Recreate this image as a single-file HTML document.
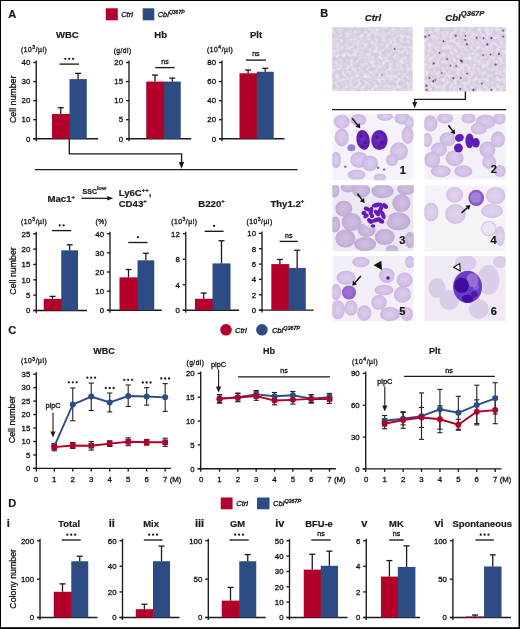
<!DOCTYPE html>
<html><head><meta charset="utf-8"><style>
html,body{margin:0;padding:0;background:#fff;width:520px;height:629px;overflow:hidden}
svg{display:block;will-change:transform}
text{font-family:"Liberation Sans", sans-serif;stroke:currentColor;stroke-width:0.18px;paint-order:stroke}
text[font-weight="normal"],text:not([font-weight]){stroke-width:0.3px}
</style></head><body>
<svg width="520" height="629" viewBox="0 0 520 629" font-family='"Liberation Sans", sans-serif'>
<rect width="520" height="629" fill="#fff"/>
<text x="8.3" y="17.7" font-size="11" font-weight="bold" font-style="normal" text-anchor="start" fill="#1a1a1a" >A</text>
<rect x="105.8" y="8.3" width="12" height="12" fill="#b2002a"/>
<text x="121.2" y="17" font-size="7.5" font-weight="normal" font-style="italic" text-anchor="start" fill="#1a1a1a" >Ctrl</text>
<rect x="142.7" y="8.3" width="11.6" height="12" fill="#2d4c83"/>
<text x="157.7" y="17" font-size="7.5" font-weight="normal" font-style="italic" text-anchor="start" fill="#1a1a1a" >Cbl<tspan font-size="5" dy="-3.5">Q367P</tspan></text>
<text x="67.3" y="38" font-size="9.5" font-weight="bold" font-style="normal" text-anchor="middle" fill="#1a1a1a" >WBC</text>
<text x="160.7" y="38" font-size="9.5" font-weight="bold" font-style="normal" text-anchor="middle" fill="#1a1a1a" >Hb</text>
<text x="256" y="38" font-size="9.5" font-weight="bold" font-style="normal" text-anchor="middle" fill="#1a1a1a" >Plt</text>
<text x="21" y="52" font-size="6.7" font-weight="normal" font-style="normal" text-anchor="start" fill="#1a1a1a" letter-spacing="0.55">(10<tspan font-size="5" dy="-2.6">3</tspan><tspan dy="2.6">/µl)</tspan></text>
<text x="113.7" y="52.5" font-size="6.7" font-weight="normal" font-style="normal" text-anchor="start" fill="#1a1a1a" letter-spacing="0.45">(g/dl)</text>
<text x="207" y="52" font-size="6.7" font-weight="normal" font-style="normal" text-anchor="start" fill="#1a1a1a" letter-spacing="0.55">(10<tspan font-size="5" dy="-2.6">4</tspan><tspan dy="2.6">/µl)</tspan></text>
<text x="0" y="0" font-size="8.8" text-anchor="middle" fill="#1a1a1a" transform="translate(15.7,99.3) rotate(-90)">Cell number</text>
<line x1="36.25" y1="60.5" x2="36.25" y2="141.25" stroke="#1a1a1a" stroke-width="1.35"/>
<line x1="33.25" y1="138.75" x2="36.25" y2="138.75" stroke="#1a1a1a" stroke-width="1.35"/>
<text x="30.25" y="141.55" font-size="7.8" font-weight="normal" font-style="normal" text-anchor="end" fill="#1a1a1a" >0</text>
<line x1="33.25" y1="119.69" x2="36.25" y2="119.69" stroke="#1a1a1a" stroke-width="1.35"/>
<text x="30.25" y="122.49" font-size="7.8" font-weight="normal" font-style="normal" text-anchor="end" fill="#1a1a1a" >10</text>
<line x1="33.25" y1="100.62" x2="36.25" y2="100.62" stroke="#1a1a1a" stroke-width="1.35"/>
<text x="30.25" y="103.42" font-size="7.8" font-weight="normal" font-style="normal" text-anchor="end" fill="#1a1a1a" >20</text>
<line x1="33.25" y1="81.56" x2="36.25" y2="81.56" stroke="#1a1a1a" stroke-width="1.35"/>
<text x="30.25" y="84.36" font-size="7.8" font-weight="normal" font-style="normal" text-anchor="end" fill="#1a1a1a" >30</text>
<line x1="33.25" y1="62.5" x2="36.25" y2="62.5" stroke="#1a1a1a" stroke-width="1.35"/>
<text x="30.25" y="65.3" font-size="7.8" font-weight="normal" font-style="normal" text-anchor="end" fill="#1a1a1a" >40</text>
<line x1="33.25" y1="138.75" x2="98" y2="138.75" stroke="#1a1a1a" stroke-width="1.35"/>
<rect x="52" y="113.97" width="18.2" height="24.78" fill="#b2002a"/>
<line x1="60.75" y1="113.97" x2="60.75" y2="107.68" stroke="#1a1a1a" stroke-width="1.3"/>
<line x1="57.75" y1="107.68" x2="63.75" y2="107.68" stroke="#1a1a1a" stroke-width="1.3"/>
<rect x="69.5" y="79.08" width="17.25" height="59.67" fill="#2d4c83"/>
<line x1="78.12" y1="79.08" x2="78.12" y2="73.37" stroke="#1a1a1a" stroke-width="1.3"/>
<line x1="75.12" y1="73.37" x2="81.12" y2="73.37" stroke="#1a1a1a" stroke-width="1.3"/>
<line x1="59.5" y1="64.1" x2="79" y2="64.1" stroke="#1a1a1a" stroke-width="1.35"/>
<circle cx="65.35" cy="58.8" r="1.15" fill="#1a1a1a"/>
<circle cx="69.25" cy="58.8" r="1.15" fill="#1a1a1a"/>
<circle cx="73.15" cy="58.8" r="1.15" fill="#1a1a1a"/>
<line x1="129" y1="60.5" x2="129" y2="141.25" stroke="#1a1a1a" stroke-width="1.35"/>
<line x1="126" y1="138.75" x2="129" y2="138.75" stroke="#1a1a1a" stroke-width="1.35"/>
<text x="123" y="141.55" font-size="7.8" font-weight="normal" font-style="normal" text-anchor="end" fill="#1a1a1a" >0</text>
<line x1="126" y1="119.69" x2="129" y2="119.69" stroke="#1a1a1a" stroke-width="1.35"/>
<text x="123" y="122.49" font-size="7.8" font-weight="normal" font-style="normal" text-anchor="end" fill="#1a1a1a" >5</text>
<line x1="126" y1="100.62" x2="129" y2="100.62" stroke="#1a1a1a" stroke-width="1.35"/>
<text x="123" y="103.42" font-size="7.8" font-weight="normal" font-style="normal" text-anchor="end" fill="#1a1a1a" >10</text>
<line x1="126" y1="81.56" x2="129" y2="81.56" stroke="#1a1a1a" stroke-width="1.35"/>
<text x="123" y="84.36" font-size="7.8" font-weight="normal" font-style="normal" text-anchor="end" fill="#1a1a1a" >15</text>
<line x1="126" y1="62.5" x2="129" y2="62.5" stroke="#1a1a1a" stroke-width="1.35"/>
<text x="123" y="65.3" font-size="7.8" font-weight="normal" font-style="normal" text-anchor="end" fill="#1a1a1a" >20</text>
<line x1="126" y1="138.75" x2="191.25" y2="138.75" stroke="#1a1a1a" stroke-width="1.35"/>
<rect x="146.25" y="81.56" width="18.2" height="57.19" fill="#b2002a"/>
<line x1="155" y1="81.56" x2="155" y2="75.08" stroke="#1a1a1a" stroke-width="1.3"/>
<line x1="152" y1="75.08" x2="158" y2="75.08" stroke="#1a1a1a" stroke-width="1.3"/>
<rect x="163.75" y="81.56" width="17" height="57.19" fill="#2d4c83"/>
<line x1="172.25" y1="81.56" x2="172.25" y2="78.13" stroke="#1a1a1a" stroke-width="1.3"/>
<line x1="169.25" y1="78.13" x2="175.25" y2="78.13" stroke="#1a1a1a" stroke-width="1.3"/>
<line x1="155.3" y1="67.6" x2="174.6" y2="67.6" stroke="#1a1a1a" stroke-width="1.35"/>
<text x="164.95" y="63.8" font-size="7" font-weight="normal" font-style="normal" text-anchor="middle" fill="#1a1a1a" >ns</text>
<line x1="222" y1="60.5" x2="222" y2="141.25" stroke="#1a1a1a" stroke-width="1.35"/>
<line x1="219" y1="138.75" x2="222" y2="138.75" stroke="#1a1a1a" stroke-width="1.35"/>
<text x="216" y="141.55" font-size="7.8" font-weight="normal" font-style="normal" text-anchor="end" fill="#1a1a1a" >0</text>
<line x1="219" y1="119.69" x2="222" y2="119.69" stroke="#1a1a1a" stroke-width="1.35"/>
<text x="216" y="122.49" font-size="7.8" font-weight="normal" font-style="normal" text-anchor="end" fill="#1a1a1a" >20</text>
<line x1="219" y1="100.62" x2="222" y2="100.62" stroke="#1a1a1a" stroke-width="1.35"/>
<text x="216" y="103.42" font-size="7.8" font-weight="normal" font-style="normal" text-anchor="end" fill="#1a1a1a" >40</text>
<line x1="219" y1="81.56" x2="222" y2="81.56" stroke="#1a1a1a" stroke-width="1.35"/>
<text x="216" y="84.36" font-size="7.8" font-weight="normal" font-style="normal" text-anchor="end" fill="#1a1a1a" >60</text>
<line x1="219" y1="62.5" x2="222" y2="62.5" stroke="#1a1a1a" stroke-width="1.35"/>
<text x="216" y="65.3" font-size="7.8" font-weight="normal" font-style="normal" text-anchor="end" fill="#1a1a1a" >80</text>
<line x1="219" y1="138.75" x2="284.5" y2="138.75" stroke="#1a1a1a" stroke-width="1.35"/>
<rect x="239.5" y="73.27" width="17.95" height="65.48" fill="#b2002a"/>
<line x1="248.12" y1="73.27" x2="248.12" y2="70.03" stroke="#1a1a1a" stroke-width="1.3"/>
<line x1="245.12" y1="70.03" x2="251.12" y2="70.03" stroke="#1a1a1a" stroke-width="1.3"/>
<rect x="256.75" y="71.75" width="17" height="67" fill="#2d4c83"/>
<line x1="265.25" y1="71.75" x2="265.25" y2="68.31" stroke="#1a1a1a" stroke-width="1.3"/>
<line x1="262.25" y1="68.31" x2="268.25" y2="68.31" stroke="#1a1a1a" stroke-width="1.3"/>
<line x1="245.8" y1="60.1" x2="266" y2="60.1" stroke="#1a1a1a" stroke-width="1.35"/>
<text x="255.9" y="56.3" font-size="7" font-weight="normal" font-style="normal" text-anchor="middle" fill="#1a1a1a" >ns</text>
<polyline points="69.3,139.3 69.3,153.9 181.6,153.9 181.6,163" fill="none" stroke="#1a1a1a" stroke-width="1.35"/>
<polygon points="178.8,162 184.2,162 181.5,168.8" fill="#1a1a1a"/>
<line x1="35" y1="169.6" x2="297.5" y2="169.6" stroke="#1a1a1a" stroke-width="1.35"/>
<text x="47.5" y="202.3" font-size="9.6" font-weight="bold" font-style="normal" text-anchor="start" fill="#1a1a1a" >Mac1<tspan font-size="6" dy="-3.8">+</tspan></text>
<text x="82.6" y="193.5" font-size="7" font-weight="bold" font-style="normal" text-anchor="start" fill="#1a1a1a" >SSC<tspan font-size="5.6" dy="-3.2">low</tspan></text>
<line x1="81.5" y1="198.3" x2="109" y2="198.3" stroke="#1a1a1a" stroke-width="1.3"/>
<polygon points="107.4,196.1 113.2,198.3 107.4,200.5" fill="#1a1a1a"/>
<text x="118.7" y="195.5" font-size="9.6" font-weight="bold" font-style="normal" text-anchor="start" fill="#1a1a1a" >Ly6C<tspan font-size="6" dy="-3.8">++</tspan><tspan dy="3.8">,</tspan></text>
<text x="118.7" y="206.7" font-size="9.6" font-weight="bold" font-style="normal" text-anchor="start" fill="#1a1a1a" >CD43<tspan font-size="6" dy="-3.8">+</tspan></text>
<text x="198.3" y="206.5" font-size="9.6" font-weight="bold" font-style="normal" text-anchor="start" fill="#1a1a1a" >B220<tspan font-size="6" dy="-3.8">+</tspan></text>
<text x="270.4" y="206.5" font-size="9.6" font-weight="bold" font-style="normal" text-anchor="start" fill="#1a1a1a" >Thy1.2<tspan font-size="6" dy="-3.8">+</tspan></text>
<text x="21" y="224" font-size="6.7" font-weight="normal" font-style="normal" text-anchor="start" fill="#1a1a1a" letter-spacing="0.55">(10<tspan font-size="5" dy="-2.6">3</tspan><tspan dy="2.6">/µl)</tspan></text>
<text x="95.5" y="224" font-size="6.7" font-weight="normal" font-style="normal" text-anchor="start" fill="#1a1a1a" letter-spacing="0.45">(%)</text>
<text x="171.2" y="224" font-size="6.7" font-weight="normal" font-style="normal" text-anchor="start" fill="#1a1a1a" letter-spacing="0.55">(10<tspan font-size="5" dy="-2.6">3</tspan><tspan dy="2.6">/µl)</tspan></text>
<text x="246.4" y="224" font-size="6.7" font-weight="normal" font-style="normal" text-anchor="start" fill="#1a1a1a" letter-spacing="0.55">(10<tspan font-size="5" dy="-2.6">3</tspan><tspan dy="2.6">/µl)</tspan></text>
<text x="0" y="0" font-size="8.8" text-anchor="middle" fill="#1a1a1a" transform="translate(15.7,271) rotate(-90)">Cell number</text>
<line x1="36.25" y1="231.75" x2="36.25" y2="313" stroke="#1a1a1a" stroke-width="1.35"/>
<line x1="33.25" y1="310.5" x2="36.25" y2="310.5" stroke="#1a1a1a" stroke-width="1.35"/>
<text x="30.25" y="313.3" font-size="7.8" font-weight="normal" font-style="normal" text-anchor="end" fill="#1a1a1a" >0</text>
<line x1="33.25" y1="295.15" x2="36.25" y2="295.15" stroke="#1a1a1a" stroke-width="1.35"/>
<text x="30.25" y="297.95" font-size="7.8" font-weight="normal" font-style="normal" text-anchor="end" fill="#1a1a1a" >5</text>
<line x1="33.25" y1="279.8" x2="36.25" y2="279.8" stroke="#1a1a1a" stroke-width="1.35"/>
<text x="30.25" y="282.6" font-size="7.8" font-weight="normal" font-style="normal" text-anchor="end" fill="#1a1a1a" >10</text>
<line x1="33.25" y1="264.45" x2="36.25" y2="264.45" stroke="#1a1a1a" stroke-width="1.35"/>
<text x="30.25" y="267.25" font-size="7.8" font-weight="normal" font-style="normal" text-anchor="end" fill="#1a1a1a" >15</text>
<line x1="33.25" y1="249.1" x2="36.25" y2="249.1" stroke="#1a1a1a" stroke-width="1.35"/>
<text x="30.25" y="251.9" font-size="7.8" font-weight="normal" font-style="normal" text-anchor="end" fill="#1a1a1a" >20</text>
<line x1="33.25" y1="233.75" x2="36.25" y2="233.75" stroke="#1a1a1a" stroke-width="1.35"/>
<text x="30.25" y="236.55" font-size="7.8" font-weight="normal" font-style="normal" text-anchor="end" fill="#1a1a1a" >25</text>
<line x1="33.25" y1="310.5" x2="87" y2="310.5" stroke="#1a1a1a" stroke-width="1.35"/>
<rect x="43.75" y="298.83" width="18.2" height="11.67" fill="#b2002a"/>
<line x1="52.5" y1="298.83" x2="52.5" y2="296.38" stroke="#1a1a1a" stroke-width="1.3"/>
<line x1="49.5" y1="296.38" x2="55.5" y2="296.38" stroke="#1a1a1a" stroke-width="1.3"/>
<rect x="61.25" y="250.33" width="16.75" height="60.17" fill="#2d4c83"/>
<line x1="69.62" y1="250.33" x2="69.62" y2="244.8" stroke="#1a1a1a" stroke-width="1.3"/>
<line x1="66.62" y1="244.8" x2="72.62" y2="244.8" stroke="#1a1a1a" stroke-width="1.3"/>
<line x1="52" y1="230.6" x2="71.25" y2="230.6" stroke="#1a1a1a" stroke-width="1.35"/>
<circle cx="59.67" cy="225.3" r="1.15" fill="#1a1a1a"/>
<circle cx="63.58" cy="225.3" r="1.15" fill="#1a1a1a"/>
<line x1="110" y1="231.75" x2="110" y2="312.75" stroke="#1a1a1a" stroke-width="1.35"/>
<line x1="107" y1="310.25" x2="110" y2="310.25" stroke="#1a1a1a" stroke-width="1.35"/>
<text x="104" y="313.05" font-size="7.8" font-weight="normal" font-style="normal" text-anchor="end" fill="#1a1a1a" >0</text>
<line x1="107" y1="291.12" x2="110" y2="291.12" stroke="#1a1a1a" stroke-width="1.35"/>
<text x="104" y="293.93" font-size="7.8" font-weight="normal" font-style="normal" text-anchor="end" fill="#1a1a1a" >10</text>
<line x1="107" y1="272" x2="110" y2="272" stroke="#1a1a1a" stroke-width="1.35"/>
<text x="104" y="274.8" font-size="7.8" font-weight="normal" font-style="normal" text-anchor="end" fill="#1a1a1a" >20</text>
<line x1="107" y1="252.88" x2="110" y2="252.88" stroke="#1a1a1a" stroke-width="1.35"/>
<text x="104" y="255.68" font-size="7.8" font-weight="normal" font-style="normal" text-anchor="end" fill="#1a1a1a" >30</text>
<line x1="107" y1="233.75" x2="110" y2="233.75" stroke="#1a1a1a" stroke-width="1.35"/>
<text x="104" y="236.55" font-size="7.8" font-weight="normal" font-style="normal" text-anchor="end" fill="#1a1a1a" >40</text>
<line x1="107" y1="310.25" x2="161.75" y2="310.25" stroke="#1a1a1a" stroke-width="1.35"/>
<rect x="119.5" y="277.36" width="18.7" height="32.89" fill="#b2002a"/>
<line x1="128.5" y1="277.36" x2="128.5" y2="269.51" stroke="#1a1a1a" stroke-width="1.3"/>
<line x1="125.5" y1="269.51" x2="131.5" y2="269.51" stroke="#1a1a1a" stroke-width="1.3"/>
<rect x="137.5" y="260.33" width="16.75" height="49.92" fill="#2d4c83"/>
<line x1="145.88" y1="260.33" x2="145.88" y2="253.26" stroke="#1a1a1a" stroke-width="1.3"/>
<line x1="142.88" y1="253.26" x2="148.88" y2="253.26" stroke="#1a1a1a" stroke-width="1.3"/>
<line x1="128.25" y1="242.5" x2="147.5" y2="242.5" stroke="#1a1a1a" stroke-width="1.35"/>
<circle cx="137.88" cy="237.2" r="1.15" fill="#1a1a1a"/>
<line x1="185.75" y1="231.75" x2="185.75" y2="312.75" stroke="#1a1a1a" stroke-width="1.35"/>
<line x1="182.75" y1="310.25" x2="185.75" y2="310.25" stroke="#1a1a1a" stroke-width="1.35"/>
<text x="179.75" y="313.05" font-size="7.8" font-weight="normal" font-style="normal" text-anchor="end" fill="#1a1a1a" >0</text>
<line x1="182.75" y1="284.75" x2="185.75" y2="284.75" stroke="#1a1a1a" stroke-width="1.35"/>
<text x="179.75" y="287.55" font-size="7.8" font-weight="normal" font-style="normal" text-anchor="end" fill="#1a1a1a" >4</text>
<line x1="182.75" y1="259.25" x2="185.75" y2="259.25" stroke="#1a1a1a" stroke-width="1.35"/>
<text x="179.75" y="262.05" font-size="7.8" font-weight="normal" font-style="normal" text-anchor="end" fill="#1a1a1a" >8</text>
<line x1="182.75" y1="233.75" x2="185.75" y2="233.75" stroke="#1a1a1a" stroke-width="1.35"/>
<text x="179.75" y="236.55" font-size="7.8" font-weight="normal" font-style="normal" text-anchor="end" fill="#1a1a1a" >12</text>
<line x1="182.75" y1="310.25" x2="239" y2="310.25" stroke="#1a1a1a" stroke-width="1.35"/>
<rect x="195" y="298.77" width="18.2" height="11.48" fill="#b2002a"/>
<line x1="203.75" y1="298.77" x2="203.75" y2="293.04" stroke="#1a1a1a" stroke-width="1.3"/>
<line x1="200.75" y1="293.04" x2="206.75" y2="293.04" stroke="#1a1a1a" stroke-width="1.3"/>
<rect x="212.5" y="263.39" width="18" height="46.86" fill="#2d4c83"/>
<line x1="221.5" y1="263.39" x2="221.5" y2="240.76" stroke="#1a1a1a" stroke-width="1.3"/>
<line x1="218.5" y1="240.76" x2="224.5" y2="240.76" stroke="#1a1a1a" stroke-width="1.3"/>
<line x1="204.6" y1="231.3" x2="223.6" y2="231.3" stroke="#1a1a1a" stroke-width="1.35"/>
<circle cx="214.1" cy="226" r="1.15" fill="#1a1a1a"/>
<line x1="262" y1="231.4" x2="262" y2="312.6" stroke="#1a1a1a" stroke-width="1.35"/>
<line x1="259" y1="310.1" x2="262" y2="310.1" stroke="#1a1a1a" stroke-width="1.35"/>
<text x="256" y="312.9" font-size="7.8" font-weight="normal" font-style="normal" text-anchor="end" fill="#1a1a1a" >0</text>
<line x1="259" y1="294.76" x2="262" y2="294.76" stroke="#1a1a1a" stroke-width="1.35"/>
<text x="256" y="297.56" font-size="7.8" font-weight="normal" font-style="normal" text-anchor="end" fill="#1a1a1a" >2</text>
<line x1="259" y1="279.42" x2="262" y2="279.42" stroke="#1a1a1a" stroke-width="1.35"/>
<text x="256" y="282.22" font-size="7.8" font-weight="normal" font-style="normal" text-anchor="end" fill="#1a1a1a" >4</text>
<line x1="259" y1="264.08" x2="262" y2="264.08" stroke="#1a1a1a" stroke-width="1.35"/>
<text x="256" y="266.88" font-size="7.8" font-weight="normal" font-style="normal" text-anchor="end" fill="#1a1a1a" >6</text>
<line x1="259" y1="248.74" x2="262" y2="248.74" stroke="#1a1a1a" stroke-width="1.35"/>
<text x="256" y="251.54" font-size="7.8" font-weight="normal" font-style="normal" text-anchor="end" fill="#1a1a1a" >8</text>
<line x1="259" y1="233.4" x2="262" y2="233.4" stroke="#1a1a1a" stroke-width="1.35"/>
<text x="256" y="236.2" font-size="7.8" font-weight="normal" font-style="normal" text-anchor="end" fill="#1a1a1a" >10</text>
<line x1="259" y1="310.1" x2="313.7" y2="310.1" stroke="#1a1a1a" stroke-width="1.35"/>
<rect x="271.3" y="264.08" width="17.9" height="46.02" fill="#b2002a"/>
<line x1="279.9" y1="264.08" x2="279.9" y2="259.48" stroke="#1a1a1a" stroke-width="1.3"/>
<line x1="276.9" y1="259.48" x2="282.9" y2="259.48" stroke="#1a1a1a" stroke-width="1.3"/>
<rect x="288.5" y="267.92" width="17.3" height="42.19" fill="#2d4c83"/>
<line x1="297.15" y1="267.92" x2="297.15" y2="250.27" stroke="#1a1a1a" stroke-width="1.3"/>
<line x1="294.15" y1="250.27" x2="300.15" y2="250.27" stroke="#1a1a1a" stroke-width="1.3"/>
<line x1="279.6" y1="241.4" x2="297.8" y2="241.4" stroke="#1a1a1a" stroke-width="1.35"/>
<text x="288.7" y="237.6" font-size="7" font-weight="normal" font-style="normal" text-anchor="middle" fill="#1a1a1a" >ns</text>
<text x="320.3" y="17.3" font-size="11" font-weight="bold" font-style="normal" text-anchor="start" fill="#1a1a1a" >B</text>
<text x="373" y="21.2" font-size="9.6" font-weight="bold" font-style="italic" text-anchor="middle" fill="#1a1a1a" >Ctrl</text>
<text x="445.3" y="21.2" font-size="9.6" font-weight="bold" font-style="italic" text-anchor="start" fill="#1a1a1a" >Cbl<tspan font-size="7.6" dy="-4.8">Q367P</tspan></text>
<defs>
<filter id="tex" x="0" y="0" width="100%" height="100%"><feTurbulence type="fractalNoise" baseFrequency="0.28" numOctaves="2" seed="7"/><feColorMatrix type="matrix" values="0 0 0 0 0.91  0 0 0 0 0.89  0 0 0 0 0.93  1.7 0 0 0 -0.62"/><feComposite in2="SourceGraphic" operator="in"/></filter>
<clipPath id="c1"><rect x="332.3" y="114" width="81.4" height="66.3"/></clipPath>
<clipPath id="c2"><rect x="424.3" y="114" width="81.4" height="65.8"/></clipPath>
<clipPath id="c3"><rect x="332.3" y="185.2" width="81.4" height="65.8"/></clipPath>
<clipPath id="c4"><rect x="424.3" y="185.2" width="81.4" height="65.8"/></clipPath>
<clipPath id="c5"><rect x="332.3" y="256" width="81.4" height="65.3"/></clipPath>
<clipPath id="c6"><rect x="424.3" y="256" width="81.4" height="65.3"/></clipPath>
<filter id="soft" x="-5%" y="-5%" width="110%" height="110%"><feGaussianBlur stdDeviation="0.6"/></filter>
<radialGradient id="rbc" cx="50%" cy="50%" r="50%"><stop offset="0" stop-color="#dccdeb"/><stop offset="0.75" stop-color="#d2bfe6"/><stop offset="1" stop-color="#c9b3e0"/></radialGradient>
<radialGradient id="rbc3" cx="50%" cy="50%" r="50%"><stop offset="0" stop-color="#d0c0e0"/><stop offset="0.75" stop-color="#c6b2da"/><stop offset="1" stop-color="#bca8d2"/></radialGradient>
<radialGradient id="nuc" cx="45%" cy="45%" r="60%"><stop offset="0" stop-color="#7030c4"/><stop offset="1" stop-color="#5018a8"/></radialGradient>
</defs>
<rect x="332.2" y="27.1" width="80.4" height="63.9" fill="#d5cadf"/>
<rect x="332.2" y="27.1" width="80.4" height="63.9" fill="#fff" filter="url(#tex)"/>
<rect x="424.4" y="27.1" width="81.4" height="64.3" fill="#d5cadf"/>
<rect x="424.4" y="27.1" width="81.4" height="64.3" fill="#fff" filter="url(#tex)"/>
<ellipse cx="394.6" cy="49.1" rx="1" ry="1" fill="#8a5a98" opacity="1" />
<ellipse cx="381.9" cy="75.1" rx="0.8" ry="0.8" fill="#9a7aa8" opacity="1" />
<ellipse cx="425.3" cy="36.7" rx="1.9" ry="1.9" fill="#e2b0e2" opacity="0.4" />
<ellipse cx="429.1" cy="35.4" rx="1.9" ry="1.9" fill="#e2b0e2" opacity="0.4" />
<ellipse cx="443.5" cy="41.2" rx="1.9" ry="1.9" fill="#e2b0e2" opacity="0.4" />
<ellipse cx="455.7" cy="35.8" rx="1.9" ry="1.9" fill="#e2b0e2" opacity="0.4" />
<ellipse cx="465.4" cy="35.8" rx="1.9" ry="1.9" fill="#e2b0e2" opacity="0.4" />
<ellipse cx="465.2" cy="39.8" rx="1.9" ry="1.9" fill="#e2b0e2" opacity="0.4" />
<ellipse cx="466.9" cy="44.3" rx="1.9" ry="1.9" fill="#e2b0e2" opacity="0.4" />
<ellipse cx="476.6" cy="37.7" rx="1.9" ry="1.9" fill="#e2b0e2" opacity="0.4" />
<ellipse cx="483.6" cy="38.1" rx="1.9" ry="1.9" fill="#e2b0e2" opacity="0.4" />
<ellipse cx="491.4" cy="38.1" rx="1.9" ry="1.9" fill="#e2b0e2" opacity="0.4" />
<ellipse cx="503.1" cy="30.7" rx="1.9" ry="1.9" fill="#e2b0e2" opacity="0.4" />
<ellipse cx="503.1" cy="36.4" rx="1.9" ry="1.9" fill="#e2b0e2" opacity="0.4" />
<ellipse cx="487.2" cy="44.4" rx="1.9" ry="1.9" fill="#e2b0e2" opacity="0.4" />
<ellipse cx="483" cy="55" rx="1.9" ry="1.9" fill="#e2b0e2" opacity="0.4" />
<ellipse cx="490.4" cy="54.6" rx="1.9" ry="1.9" fill="#e2b0e2" opacity="0.4" />
<ellipse cx="498.9" cy="53.9" rx="1.9" ry="1.9" fill="#e2b0e2" opacity="0.4" />
<ellipse cx="460.8" cy="60.3" rx="1.9" ry="1.9" fill="#e2b0e2" opacity="0.4" />
<ellipse cx="447" cy="58.9" rx="1.9" ry="1.9" fill="#e2b0e2" opacity="0.4" />
<ellipse cx="433.7" cy="63.5" rx="1.9" ry="1.9" fill="#e2b0e2" opacity="0.4" />
<ellipse cx="450.6" cy="65.6" rx="1.9" ry="1.9" fill="#e2b0e2" opacity="0.4" />
<ellipse cx="456.1" cy="66" rx="1.9" ry="1.9" fill="#e2b0e2" opacity="0.4" />
<ellipse cx="461.8" cy="61.4" rx="1.9" ry="1.9" fill="#e2b0e2" opacity="0.4" />
<ellipse cx="441.7" cy="73" rx="1.9" ry="1.9" fill="#e2b0e2" opacity="0.4" />
<ellipse cx="467.1" cy="73.6" rx="1.9" ry="1.9" fill="#e2b0e2" opacity="0.4" />
<ellipse cx="495.7" cy="64.5" rx="1.9" ry="1.9" fill="#e2b0e2" opacity="0.4" />
<ellipse cx="429.5" cy="77.9" rx="1.9" ry="1.9" fill="#e2b0e2" opacity="0.4" />
<ellipse cx="435.4" cy="80" rx="1.9" ry="1.9" fill="#e2b0e2" opacity="0.4" />
<ellipse cx="453.4" cy="78.3" rx="1.9" ry="1.9" fill="#e2b0e2" opacity="0.4" />
<ellipse cx="460.8" cy="77.9" rx="1.9" ry="1.9" fill="#e2b0e2" opacity="0.4" />
<ellipse cx="481.9" cy="83.6" rx="1.9" ry="1.9" fill="#e2b0e2" opacity="0.4" />
<ellipse cx="426.5" cy="85.7" rx="1.9" ry="1.9" fill="#e2b0e2" opacity="0.4" />
<ellipse cx="426.9" cy="89.9" rx="1.9" ry="1.9" fill="#e2b0e2" opacity="0.4" />
<ellipse cx="460.3" cy="88.9" rx="1.9" ry="1.9" fill="#e2b0e2" opacity="0.4" />
<ellipse cx="473.5" cy="89.9" rx="1.9" ry="1.9" fill="#e2b0e2" opacity="0.4" />
<ellipse cx="491.4" cy="89.9" rx="1.9" ry="1.9" fill="#e2b0e2" opacity="0.4" />
<ellipse cx="439.6" cy="52.9" rx="1.9" ry="1.9" fill="#e2b0e2" opacity="0.4" />
<ellipse cx="433.3" cy="81.4" rx="1.9" ry="1.9" fill="#e2b0e2" opacity="0.4" />
<ellipse cx="425.3" cy="36.7" rx="1.05" ry="1.05" fill="#7e3c8a" opacity="1" />
<ellipse cx="429.1" cy="35.4" rx="0.85" ry="0.85" fill="#7e3c8a" opacity="1" />
<ellipse cx="443.5" cy="41.2" rx="0.85" ry="0.85" fill="#7e3c8a" opacity="1" />
<ellipse cx="455.7" cy="35.8" rx="1.05" ry="1.05" fill="#7e3c8a" opacity="1" />
<ellipse cx="465.4" cy="35.8" rx="0.85" ry="0.85" fill="#7e3c8a" opacity="1" />
<ellipse cx="465.2" cy="39.8" rx="0.85" ry="0.85" fill="#7e3c8a" opacity="1" />
<ellipse cx="466.9" cy="44.3" rx="1.05" ry="1.05" fill="#7e3c8a" opacity="1" />
<ellipse cx="476.6" cy="37.7" rx="0.85" ry="0.85" fill="#7e3c8a" opacity="1" />
<ellipse cx="483.6" cy="38.1" rx="0.85" ry="0.85" fill="#7e3c8a" opacity="1" />
<ellipse cx="491.4" cy="38.1" rx="1.05" ry="1.05" fill="#7e3c8a" opacity="1" />
<ellipse cx="503.1" cy="30.7" rx="0.85" ry="0.85" fill="#7e3c8a" opacity="1" />
<ellipse cx="503.1" cy="36.4" rx="0.85" ry="0.85" fill="#7e3c8a" opacity="1" />
<ellipse cx="487.2" cy="44.4" rx="1.05" ry="1.05" fill="#7e3c8a" opacity="1" />
<ellipse cx="483" cy="55" rx="0.85" ry="0.85" fill="#7e3c8a" opacity="1" />
<ellipse cx="490.4" cy="54.6" rx="0.85" ry="0.85" fill="#7e3c8a" opacity="1" />
<ellipse cx="498.9" cy="53.9" rx="1.05" ry="1.05" fill="#7e3c8a" opacity="1" />
<ellipse cx="460.8" cy="60.3" rx="0.85" ry="0.85" fill="#7e3c8a" opacity="1" />
<ellipse cx="447" cy="58.9" rx="0.85" ry="0.85" fill="#7e3c8a" opacity="1" />
<ellipse cx="433.7" cy="63.5" rx="1.05" ry="1.05" fill="#7e3c8a" opacity="1" />
<ellipse cx="450.6" cy="65.6" rx="0.85" ry="0.85" fill="#7e3c8a" opacity="1" />
<ellipse cx="456.1" cy="66" rx="0.85" ry="0.85" fill="#7e3c8a" opacity="1" />
<ellipse cx="461.8" cy="61.4" rx="1.05" ry="1.05" fill="#7e3c8a" opacity="1" />
<ellipse cx="441.7" cy="73" rx="0.85" ry="0.85" fill="#7e3c8a" opacity="1" />
<ellipse cx="467.1" cy="73.6" rx="0.85" ry="0.85" fill="#7e3c8a" opacity="1" />
<ellipse cx="495.7" cy="64.5" rx="1.05" ry="1.05" fill="#7e3c8a" opacity="1" />
<ellipse cx="429.5" cy="77.9" rx="0.85" ry="0.85" fill="#7e3c8a" opacity="1" />
<ellipse cx="435.4" cy="80" rx="0.85" ry="0.85" fill="#7e3c8a" opacity="1" />
<ellipse cx="453.4" cy="78.3" rx="1.05" ry="1.05" fill="#7e3c8a" opacity="1" />
<ellipse cx="460.8" cy="77.9" rx="0.85" ry="0.85" fill="#7e3c8a" opacity="1" />
<ellipse cx="481.9" cy="83.6" rx="0.85" ry="0.85" fill="#7e3c8a" opacity="1" />
<ellipse cx="426.5" cy="85.7" rx="1.05" ry="1.05" fill="#7e3c8a" opacity="1" />
<ellipse cx="426.9" cy="89.9" rx="0.85" ry="0.85" fill="#7e3c8a" opacity="1" />
<ellipse cx="460.3" cy="88.9" rx="0.85" ry="0.85" fill="#7e3c8a" opacity="1" />
<ellipse cx="473.5" cy="89.9" rx="1.05" ry="1.05" fill="#7e3c8a" opacity="1" />
<ellipse cx="491.4" cy="89.9" rx="0.85" ry="0.85" fill="#7e3c8a" opacity="1" />
<ellipse cx="439.6" cy="52.9" rx="0.85" ry="0.85" fill="#7e3c8a" opacity="1" />
<ellipse cx="433.3" cy="81.4" rx="1.05" ry="1.05" fill="#7e3c8a" opacity="1" />
<g clip-path="url(#c1)">
<rect x="332.3" y="114" width="81.4" height="66.3" fill="#f6f2f9"/>
<g filter="url(#soft)">
<ellipse cx="341.8" cy="121.8" rx="8" ry="7" fill="url(#rbc)" opacity="1" />
<ellipse cx="358.3" cy="120.1" rx="8" ry="6" fill="url(#rbc)" opacity="1" />
<ellipse cx="385.1" cy="116.7" rx="8" ry="4" fill="url(#rbc)" opacity="1" />
<ellipse cx="402.4" cy="118.4" rx="8" ry="6" fill="url(#rbc)" opacity="1" />
<ellipse cx="341.8" cy="137.4" rx="7" ry="9" fill="url(#rbc)" opacity="1" />
<ellipse cx="359.2" cy="159.9" rx="9" ry="8" fill="url(#rbc)" opacity="1" />
<ellipse cx="370" cy="163.4" rx="8" ry="8" fill="url(#rbc)" opacity="1" />
<ellipse cx="399" cy="151.3" rx="9" ry="9" fill="url(#rbc)" opacity="1" />
<ellipse cx="407.6" cy="135" rx="6" ry="9" fill="url(#rbc)" opacity="1" />
<ellipse cx="356.6" cy="174.8" rx="9" ry="5" fill="url(#rbc)" opacity="1" />
<ellipse cx="379.9" cy="177.4" rx="6" ry="4" fill="url(#rbc)" opacity="1" />
<ellipse cx="409.3" cy="122.6" rx="5" ry="6" fill="url(#rbc)" opacity="1" />
<ellipse cx="392" cy="160" rx="6" ry="6" fill="url(#rbc)" opacity="1" />
<ellipse cx="336" cy="160" rx="5" ry="8" fill="url(#rbc)" opacity="1" />
</g>
<ellipse cx="351.4" cy="147.8" rx="4" ry="3.5" fill="#9a80cc" opacity="1" />
<ellipse cx="345.3" cy="166.8" rx="1.3" ry="1.2" fill="#8a70bc" opacity="1" />
<ellipse cx="378.2" cy="167.7" rx="1.3" ry="1.2" fill="#8a70bc" opacity="1" />
<ellipse cx="384.2" cy="169.4" rx="1.3" ry="1.2" fill="#8a70bc" opacity="1" />
<ellipse cx="363.1" cy="139.8" rx="7.6" ry="11" fill="#f6e6f6" opacity="1" />
<ellipse cx="379.4" cy="140.1" rx="9.2" ry="11" fill="#f6e6f6" opacity="1" />
<ellipse cx="363.1" cy="139.8" rx="6.6" ry="10" fill="url(#nuc)" opacity="1" transform="rotate(-10 363.1 139.8)"/>
<ellipse cx="379.4" cy="140.1" rx="8.2" ry="10" fill="url(#nuc)" opacity="1" />
<ellipse cx="361" cy="136" rx="2" ry="2" fill="#521496" opacity="0.8" />
<ellipse cx="365" cy="143" rx="1.8" ry="1.8" fill="#521496" opacity="0.8" />
<ellipse cx="377" cy="137" rx="2" ry="2" fill="#521496" opacity="0.8" />
<ellipse cx="382" cy="143" rx="2.2" ry="2.2" fill="#521496" opacity="0.8" />
<ellipse cx="379" cy="146" rx="1.5" ry="1.5" fill="#521496" opacity="0.8" />
<ellipse cx="362" cy="146" rx="1.6" ry="1.6" fill="#521496" opacity="0.8" />
</g>
<line x1="352.2" y1="118.4" x2="357.56" y2="124.96" stroke="#111" stroke-width="1.5"/><polygon points="360.3,128.3 355.47,126.67 359.65,123.25" fill="#111"/>
<text x="399.8" y="173.6" font-size="11" font-weight="bold" fill="#111">1</text>
<g clip-path="url(#c2)">
<rect x="424.3" y="114" width="81.4" height="65.8" fill="#f4f0f8"/>
<g filter="url(#soft)">
<ellipse cx="430.4" cy="123.6" rx="7" ry="8" fill="url(#rbc)" opacity="1" />
<ellipse cx="445.1" cy="118.4" rx="8" ry="5" fill="url(#rbc)" opacity="1" />
<ellipse cx="468.5" cy="118.4" rx="7" ry="5" fill="url(#rbc)" opacity="1" />
<ellipse cx="485.8" cy="121.8" rx="10" ry="7" fill="url(#rbc)" opacity="1" />
<ellipse cx="499.6" cy="118.4" rx="6" ry="6" fill="url(#rbc)" opacity="1" />
<ellipse cx="447.7" cy="139.2" rx="8" ry="7" fill="url(#rbc)" opacity="1" />
<ellipse cx="439" cy="149.5" rx="8" ry="7" fill="url(#rbc)" opacity="1" />
<ellipse cx="432.1" cy="159.9" rx="8" ry="8" fill="url(#rbc)" opacity="1" />
<ellipse cx="454.6" cy="158.2" rx="9" ry="8" fill="url(#rbc)" opacity="1" />
<ellipse cx="440.8" cy="171.3" rx="10" ry="6" fill="url(#rbc)" opacity="1" />
<ellipse cx="463.3" cy="171.3" rx="9" ry="6" fill="url(#rbc)" opacity="1" />
<ellipse cx="487.5" cy="149.5" rx="8" ry="8" fill="url(#rbc)" opacity="1" />
<ellipse cx="497.9" cy="139.6" rx="7" ry="8" fill="url(#rbc)" opacity="1" />
<ellipse cx="489.2" cy="161.9" rx="7" ry="7" fill="url(#rbc)" opacity="1" />
<ellipse cx="478.8" cy="128.5" rx="8" ry="6" fill="url(#rbc)" opacity="1" />
<ellipse cx="427" cy="140" rx="5" ry="7" fill="url(#rbc)" opacity="1" />
<ellipse cx="500" cy="171" rx="6" ry="6" fill="url(#rbc)" opacity="1" />
</g>
<ellipse cx="459.4" cy="137.8" rx="5.2" ry="4.5" fill="#f4e2f4" opacity="1" transform="rotate(-20 459.4 137.8)"/>
<ellipse cx="458.4" cy="148" rx="5.1" ry="5.3" fill="#f4e2f4" opacity="1" transform="rotate(0 458.4 148)"/>
<ellipse cx="469.6" cy="140.8" rx="4.9" ry="8.1" fill="#f4e2f4" opacity="1" transform="rotate(0 469.6 140.8)"/>
<ellipse cx="475.9" cy="142.8" rx="4.5" ry="5.5" fill="#f4e2f4" opacity="1" transform="rotate(0 475.9 142.8)"/>
<ellipse cx="459.4" cy="137.8" rx="4.5" ry="3.8" fill="#5c20b6" opacity="1" transform="rotate(-20 459.4 137.8)"/>
<ellipse cx="458.4" cy="148" rx="4.4" ry="4.6" fill="#5c20b6" opacity="1" transform="rotate(0 458.4 148)"/>
<ellipse cx="469.6" cy="140.8" rx="4.2" ry="7.4" fill="#5c20b6" opacity="1" transform="rotate(0 469.6 140.8)"/>
<ellipse cx="475.9" cy="142.8" rx="3.8" ry="4.8" fill="#5c20b6" opacity="1" transform="rotate(0 475.9 142.8)"/>
</g>
<line x1="448.4" y1="125.3" x2="452.58" y2="130.77" stroke="#111" stroke-width="1.5"/><polygon points="455.2,134.2 450.43,132.41 454.72,129.13" fill="#111"/>
<text x="490.8" y="173.4" font-size="11" font-weight="bold" fill="#111">2</text>
<g clip-path="url(#c3)">
<rect x="332.3" y="185.2" width="81.4" height="65.8" fill="#eee8f4"/>
<g filter="url(#soft)">
<ellipse cx="334.4" cy="190.5" rx="5" ry="7" fill="url(#rbc3)" opacity="1" />
<ellipse cx="347.8" cy="187.4" rx="7" ry="5" fill="url(#rbc3)" opacity="1" />
<ellipse cx="361.2" cy="190.5" rx="9" ry="7" fill="url(#rbc3)" opacity="1" />
<ellipse cx="382.5" cy="191.3" rx="11" ry="7" fill="url(#rbc3)" opacity="1" />
<ellipse cx="406.1" cy="188.9" rx="9" ry="6" fill="url(#rbc3)" opacity="1" />
<ellipse cx="343.8" cy="208.7" rx="8.5" ry="8" fill="url(#rbc3)" opacity="1" />
<ellipse cx="335.2" cy="224.4" rx="5" ry="8" fill="url(#rbc3)" opacity="1" />
<ellipse cx="351.7" cy="222" rx="10" ry="9" fill="url(#rbc3)" opacity="1" />
<ellipse cx="401.4" cy="203.1" rx="9" ry="9" fill="url(#rbc3)" opacity="1" />
<ellipse cx="398.2" cy="221.3" rx="12" ry="9" fill="url(#rbc3)" opacity="1" />
<ellipse cx="345.4" cy="238.6" rx="10" ry="9" fill="url(#rbc3)" opacity="1" />
<ellipse cx="365.1" cy="244.1" rx="11" ry="7" fill="url(#rbc3)" opacity="1" />
<ellipse cx="384.8" cy="237" rx="10" ry="8" fill="url(#rbc3)" opacity="1" />
<ellipse cx="366.7" cy="230" rx="9" ry="7" fill="url(#rbc3)" opacity="1" />
<ellipse cx="410" cy="240" rx="5" ry="8" fill="url(#rbc3)" opacity="1" />
<ellipse cx="392" cy="249" rx="6" ry="4" fill="url(#rbc3)" opacity="1" />
</g>
<ellipse cx="374.5" cy="214.6" rx="14.5" ry="13.5" fill="#efe4f4" opacity="1" />
<ellipse cx="367" cy="209" rx="3.4" ry="2.2" fill="#641cb4" opacity="1" transform="rotate(20 367 209)"/>
<ellipse cx="366" cy="216" rx="3" ry="2" fill="#641cb4" opacity="1" transform="rotate(-30 366 216)"/>
<ellipse cx="371" cy="211" rx="2.2" ry="4.4" fill="#641cb4" opacity="1" transform="rotate(10 371 211)"/>
<ellipse cx="377" cy="205" rx="5.5" ry="2.2" fill="#641cb4" opacity="1" transform="rotate(-10 377 205)"/>
<ellipse cx="380.5" cy="209.5" rx="2.2" ry="4.4" fill="#641cb4" opacity="1" transform="rotate(20 380.5 209.5)"/>
<ellipse cx="383" cy="215" rx="4.4" ry="2.2" fill="#641cb4" opacity="1" transform="rotate(70 383 215)"/>
<ellipse cx="376" cy="220" rx="5.5" ry="2.2" fill="#641cb4" opacity="1" transform="rotate(-20 376 220)"/>
<ellipse cx="370" cy="221" rx="3.4" ry="2.2" fill="#641cb4" opacity="1" transform="rotate(40 370 221)"/>
<ellipse cx="377" cy="213" rx="2.2" ry="4" fill="#641cb4" opacity="1" transform="rotate(-40 377 213)"/>
<ellipse cx="364" cy="213" rx="2.6" ry="2.2" fill="#641cb4" opacity="1" transform="rotate(0 364 213)"/>
<ellipse cx="381" cy="221" rx="3.4" ry="2.2" fill="#641cb4" opacity="1" transform="rotate(30 381 221)"/>
<ellipse cx="373" cy="226" rx="2.4" ry="1.8" fill="#641cb4" opacity="1" transform="rotate(0 373 226)"/>
<ellipse cx="385" cy="206" rx="3.4" ry="2.2" fill="#641cb4" opacity="1" transform="rotate(40 385 206)"/>
<ellipse cx="372" cy="216" rx="2.2" ry="2.2" fill="#641cb4" opacity="1" transform="rotate(0 372 216)"/>
</g>
<line x1="357.4" y1="193.8" x2="361.94" y2="199.6" stroke="#111" stroke-width="1.5"/><polygon points="364.6,203 359.81,201.26 364.06,197.93" fill="#111"/>
<text x="399.2" y="244.4" font-size="11" font-weight="bold" fill="#111">3</text>
<g clip-path="url(#c4)">
<rect x="424.3" y="185.2" width="81.4" height="65.8" fill="#f6f3f8"/>
<g filter="url(#soft)">
<ellipse cx="431" cy="212" rx="7.5" ry="9.5" fill="url(#rbc)" opacity="0.8" />
<ellipse cx="454.6" cy="194.7" rx="8.6" ry="7.8" fill="url(#rbc)" opacity="0.8" />
<ellipse cx="455.5" cy="214" rx="10.4" ry="10" fill="url(#rbc)" opacity="0.8" />
<ellipse cx="495.7" cy="195.6" rx="10" ry="8.6" fill="url(#rbc)" opacity="0.8" />
<ellipse cx="492" cy="211" rx="11" ry="7" fill="url(#rbc)" opacity="0.8" />
<ellipse cx="500" cy="236" rx="5" ry="10" fill="url(#rbc)" opacity="0.8" />
</g>
<ellipse cx="488.8" cy="228.5" rx="7.2" ry="7" fill="#ebe4f2" opacity="1" stroke="#d4c4e4" stroke-width="1.2"/>
<ellipse cx="476.2" cy="197.9" rx="8.6" ry="8.9" fill="#f4e8f6" opacity="1" />
<ellipse cx="476.2" cy="197.9" rx="7.8" ry="8.1" fill="#8a56c8" opacity="1" />
<ellipse cx="475.8" cy="197.5" rx="5.6" ry="5.6" fill="#a886d8" opacity="0.85" />
</g>
<line x1="461.5" y1="212.9" x2="467.17" y2="207.87" stroke="#111" stroke-width="1.5"/><polygon points="470.4,205 468.96,209.89 465.38,205.85" fill="#111"/>
<text x="490.4" y="244.4" font-size="11" font-weight="bold" fill="#111">4</text>
<g clip-path="url(#c5)">
<rect x="332.3" y="256" width="81.4" height="65.3" fill="#f3eff7"/>
<g filter="url(#soft)">
<ellipse cx="360.8" cy="262" rx="8.7" ry="5.2" fill="url(#rbc)" opacity="1" />
<ellipse cx="410" cy="262" rx="5" ry="6" fill="url(#rbc)" opacity="1" />
<ellipse cx="386.8" cy="275.5" rx="7.8" ry="7.4" fill="url(#rbc)" opacity="1" />
<ellipse cx="404.6" cy="279.9" rx="8" ry="7.4" fill="url(#rbc)" opacity="1" />
<ellipse cx="346" cy="277.7" rx="9.5" ry="7" fill="url(#rbc)" opacity="1" />
<ellipse cx="336" cy="292" rx="5" ry="8" fill="url(#rbc)" opacity="1" />
<ellipse cx="384" cy="290" rx="9.5" ry="5.2" fill="url(#rbc)" opacity="1" />
<ellipse cx="402.4" cy="294.5" rx="8.6" ry="8.2" fill="url(#rbc)" opacity="1" />
<ellipse cx="379" cy="302.4" rx="7.8" ry="7.4" fill="url(#rbc)" opacity="1" />
<ellipse cx="364.3" cy="313" rx="7" ry="7.8" fill="url(#rbc)" opacity="1" />
<ellipse cx="338" cy="309.7" rx="6.9" ry="9.5" fill="url(#rbc)" opacity="1" />
<ellipse cx="351" cy="308" rx="6.5" ry="7.8" fill="url(#rbc)" opacity="1" />
<ellipse cx="390" cy="314" rx="10" ry="7" fill="url(#rbc)" opacity="1" />
<ellipse cx="407" cy="314" rx="6" ry="7" fill="url(#rbc)" opacity="1" />
</g>
<ellipse cx="388" cy="278" rx="1.8" ry="1.8" fill="#5e17a6" opacity="1" />
<ellipse cx="349" cy="292.5" rx="7.9" ry="7.9" fill="#f4e8f6" opacity="1" />
<ellipse cx="349" cy="292.5" rx="7.1" ry="7.1" fill="#9462cc" opacity="1" />
<ellipse cx="348.5" cy="292" rx="4.5" ry="4.5" fill="#a074d4" opacity="0.7" />
</g>
<polygon points="373.6,265.2 381.3,260.8 382,270" fill="#111"/>
<line x1="360.9" y1="276" x2="355.08" y2="282.48" stroke="#111" stroke-width="1.5"/><polygon points="352.2,285.7 353.07,280.68 357.09,284.29" fill="#111"/>
<text x="399.2" y="315.2" font-size="11" font-weight="bold" fill="#111">5</text>
<g clip-path="url(#c6)">
<rect x="424.3" y="256" width="81.4" height="65.3" fill="#efeaf4"/>
<g filter="url(#soft)">
<ellipse cx="465.8" cy="263" rx="11" ry="7.8" fill="#d8cae8" opacity="0.9" />
<ellipse cx="488.4" cy="280" rx="11" ry="15" fill="#d8cae8" opacity="0.9" />
<ellipse cx="449.4" cy="300" rx="10" ry="10" fill="#d8cae8" opacity="0.9" />
<ellipse cx="478.8" cy="309" rx="10" ry="10" fill="#d8cae8" opacity="0.9" />
<ellipse cx="437" cy="288" rx="8.7" ry="10" fill="#d8cae8" opacity="0.9" />
<ellipse cx="500" cy="262" rx="7" ry="6" fill="#d8cae8" opacity="0.9" />
</g>
<ellipse cx="467.6" cy="286.9" rx="15.3" ry="16.9" fill="#f0e2f6" opacity="1" />
<ellipse cx="467.6" cy="286.9" rx="14.5" ry="16.1" fill="#6a3cc6" opacity="1" />
<ellipse cx="472.5" cy="280" rx="6" ry="7" fill="#a07ad8" opacity="0.8" />
<ellipse cx="476" cy="287" rx="3" ry="3" fill="#a07ad8" opacity="0.6" />
<ellipse cx="461.6" cy="285.3" rx="7.4" ry="7.6" fill="#3e0c9e" opacity="1" />
<ellipse cx="467.5" cy="298.7" rx="5.7" ry="4" fill="#420ea2" opacity="1" />
<ellipse cx="474.4" cy="294.3" rx="3.3" ry="3.1" fill="#5018aa" opacity="1" />
</g>
<polygon points="453.6,267.3 459.7,263.6 460.2,271" fill="#fff" stroke="#111" stroke-width="1.1" stroke-linejoin="miter"/>
<text x="490.8" y="315.4" font-size="11" font-weight="bold" fill="#111">6</text>
<polyline points="465.4,91.4 465.4,99.4 414.7,99.4 414.7,103" fill="none" stroke="#1a1a1a" stroke-width="1.35"/>
<polygon points="412.2,102 417.2,102 414.7,108.3" fill="#1a1a1a"/>
<line x1="332" y1="109.6" x2="506.3" y2="109.6" stroke="#1a1a1a" stroke-width="1.35"/>
<text x="8.3" y="333.8" font-size="11" font-weight="bold" font-style="normal" text-anchor="start" fill="#1a1a1a" >C</text>
<circle cx="226" cy="329.8" r="5.8" fill="#b2002a"/>
<text x="235" y="332.9" font-size="7.6" font-weight="normal" font-style="italic" text-anchor="start" fill="#1a1a1a" >Ctrl</text>
<circle cx="261.9" cy="329.8" r="5.8" fill="#2d4c83"/>
<text x="271.9" y="332.9" font-size="7.6" font-weight="normal" font-style="italic" text-anchor="start" fill="#1a1a1a" >Cbl<tspan font-size="5.4" dy="-3.2">Q367P</tspan></text>
<text x="104" y="354" font-size="9" font-weight="bold" font-style="normal" text-anchor="middle" fill="#1a1a1a">WBC</text>
<text x="269" y="353.8" font-size="9" font-weight="bold" font-style="normal" text-anchor="middle" fill="#1a1a1a">Hb</text>
<text x="434.7" y="353.6" font-size="9" font-weight="bold" font-style="normal" text-anchor="middle" fill="#1a1a1a">Plt</text>
<text x="21" y="363.4" font-size="6.7" letter-spacing="0.55" fill="#1a1a1a">(10<tspan font-size="5" dy="-2.6">3</tspan><tspan dy="2.6">/µl)</tspan></text>
<text letter-spacing="0.45" x="186.5" y="364.5" font-size="6.7" font-weight="normal" font-style="normal" text-anchor="start" fill="#1a1a1a">(g/dl)</text>
<text x="352" y="364" font-size="6.7" letter-spacing="0.55" fill="#1a1a1a">(10<tspan font-size="5" dy="-2.6">4</tspan><tspan dy="2.6">/µl)</tspan></text>
<text x="0" y="0" font-size="8.8" text-anchor="middle" fill="#1a1a1a" transform="translate(15.4,419.5) rotate(-90)">Cell number</text>
<line x1="36.3" y1="372.2" x2="36.3" y2="471.4" stroke="#1a1a1a" stroke-width="1.35"/>
<line x1="33.3" y1="468.4" x2="36.3" y2="468.4" stroke="#1a1a1a" stroke-width="1.35"/>
<text x="30.3" y="471.2" font-size="7.8" font-weight="normal" font-style="normal" text-anchor="end" fill="#1a1a1a">0</text>
<line x1="33.3" y1="454.94" x2="36.3" y2="454.94" stroke="#1a1a1a" stroke-width="1.35"/>
<text x="30.3" y="457.74" font-size="7.8" font-weight="normal" font-style="normal" text-anchor="end" fill="#1a1a1a">5</text>
<line x1="33.3" y1="441.49" x2="36.3" y2="441.49" stroke="#1a1a1a" stroke-width="1.35"/>
<text x="30.3" y="444.29" font-size="7.8" font-weight="normal" font-style="normal" text-anchor="end" fill="#1a1a1a">10</text>
<line x1="33.3" y1="428.03" x2="36.3" y2="428.03" stroke="#1a1a1a" stroke-width="1.35"/>
<text x="30.3" y="430.83" font-size="7.8" font-weight="normal" font-style="normal" text-anchor="end" fill="#1a1a1a">15</text>
<line x1="33.3" y1="414.57" x2="36.3" y2="414.57" stroke="#1a1a1a" stroke-width="1.35"/>
<text x="30.3" y="417.37" font-size="7.8" font-weight="normal" font-style="normal" text-anchor="end" fill="#1a1a1a">20</text>
<line x1="33.3" y1="401.11" x2="36.3" y2="401.11" stroke="#1a1a1a" stroke-width="1.35"/>
<text x="30.3" y="403.91" font-size="7.8" font-weight="normal" font-style="normal" text-anchor="end" fill="#1a1a1a">25</text>
<line x1="33.3" y1="387.66" x2="36.3" y2="387.66" stroke="#1a1a1a" stroke-width="1.35"/>
<text x="30.3" y="390.46" font-size="7.8" font-weight="normal" font-style="normal" text-anchor="end" fill="#1a1a1a">30</text>
<line x1="33.3" y1="374.2" x2="36.3" y2="374.2" stroke="#1a1a1a" stroke-width="1.35"/>
<text x="30.3" y="377" font-size="7.8" font-weight="normal" font-style="normal" text-anchor="end" fill="#1a1a1a">35</text>
<line x1="33.3" y1="468.4" x2="171.1" y2="468.4" stroke="#1a1a1a" stroke-width="1.35"/>
<text x="35.8" y="481.9" font-size="7.8" font-weight="normal" font-style="normal" text-anchor="middle" fill="#1a1a1a">0</text>
<line x1="54.28" y1="468.4" x2="54.28" y2="471.4" stroke="#1a1a1a" stroke-width="1.35"/>
<text x="54.28" y="481.9" font-size="7.8" font-weight="normal" font-style="normal" text-anchor="middle" fill="#1a1a1a">1</text>
<line x1="72.76" y1="468.4" x2="72.76" y2="471.4" stroke="#1a1a1a" stroke-width="1.35"/>
<text x="72.76" y="481.9" font-size="7.8" font-weight="normal" font-style="normal" text-anchor="middle" fill="#1a1a1a">2</text>
<line x1="91.24" y1="468.4" x2="91.24" y2="471.4" stroke="#1a1a1a" stroke-width="1.35"/>
<text x="91.24" y="481.9" font-size="7.8" font-weight="normal" font-style="normal" text-anchor="middle" fill="#1a1a1a">3</text>
<line x1="109.72" y1="468.4" x2="109.72" y2="471.4" stroke="#1a1a1a" stroke-width="1.35"/>
<text x="109.72" y="481.9" font-size="7.8" font-weight="normal" font-style="normal" text-anchor="middle" fill="#1a1a1a">4</text>
<line x1="128.2" y1="468.4" x2="128.2" y2="471.4" stroke="#1a1a1a" stroke-width="1.35"/>
<text x="128.2" y="481.9" font-size="7.8" font-weight="normal" font-style="normal" text-anchor="middle" fill="#1a1a1a">5</text>
<line x1="146.68" y1="468.4" x2="146.68" y2="471.4" stroke="#1a1a1a" stroke-width="1.35"/>
<text x="146.68" y="481.9" font-size="7.8" font-weight="normal" font-style="normal" text-anchor="middle" fill="#1a1a1a">6</text>
<line x1="165.16" y1="468.4" x2="165.16" y2="471.4" stroke="#1a1a1a" stroke-width="1.35"/>
<text x="165.16" y="481.9" font-size="7.8" font-weight="normal" font-style="normal" text-anchor="middle" fill="#1a1a1a">7</text>
<text x="169.66" y="481.9" font-size="7.8" font-weight="normal" font-style="normal" text-anchor="start" fill="#1a1a1a">(M)</text>
<line x1="54.28" y1="444.18" x2="54.28" y2="448.48" stroke="#222" stroke-width="1.1"/>
<line x1="51.68" y1="444.18" x2="56.88" y2="444.18" stroke="#222" stroke-width="1.1"/>
<line x1="51.68" y1="448.48" x2="56.88" y2="448.48" stroke="#222" stroke-width="1.1"/>
<line x1="72.76" y1="387.93" x2="72.76" y2="420.76" stroke="#222" stroke-width="1.1"/>
<line x1="70.16" y1="387.93" x2="75.36" y2="387.93" stroke="#222" stroke-width="1.1"/>
<line x1="70.16" y1="420.76" x2="75.36" y2="420.76" stroke="#222" stroke-width="1.1"/>
<line x1="91.24" y1="383.08" x2="91.24" y2="410.53" stroke="#222" stroke-width="1.1"/>
<line x1="88.64" y1="383.08" x2="93.84" y2="383.08" stroke="#222" stroke-width="1.1"/>
<line x1="88.64" y1="410.53" x2="93.84" y2="410.53" stroke="#222" stroke-width="1.1"/>
<line x1="109.72" y1="393.04" x2="109.72" y2="411.88" stroke="#222" stroke-width="1.1"/>
<line x1="107.12" y1="393.04" x2="112.32" y2="393.04" stroke="#222" stroke-width="1.1"/>
<line x1="107.12" y1="411.88" x2="112.32" y2="411.88" stroke="#222" stroke-width="1.1"/>
<line x1="128.2" y1="384.97" x2="128.2" y2="406.5" stroke="#222" stroke-width="1.1"/>
<line x1="125.6" y1="384.97" x2="130.8" y2="384.97" stroke="#222" stroke-width="1.1"/>
<line x1="125.6" y1="406.5" x2="130.8" y2="406.5" stroke="#222" stroke-width="1.1"/>
<line x1="146.68" y1="387.66" x2="146.68" y2="405.15" stroke="#222" stroke-width="1.1"/>
<line x1="144.08" y1="387.66" x2="149.28" y2="387.66" stroke="#222" stroke-width="1.1"/>
<line x1="144.08" y1="405.15" x2="149.28" y2="405.15" stroke="#222" stroke-width="1.1"/>
<line x1="165.16" y1="383.62" x2="165.16" y2="411.34" stroke="#222" stroke-width="1.1"/>
<line x1="162.56" y1="383.62" x2="167.76" y2="383.62" stroke="#222" stroke-width="1.1"/>
<line x1="162.56" y1="411.34" x2="167.76" y2="411.34" stroke="#222" stroke-width="1.1"/>
<line x1="54.28" y1="443.5" x2="54.28" y2="450.77" stroke="#222" stroke-width="1.1"/>
<line x1="51.68" y1="443.5" x2="56.88" y2="443.5" stroke="#222" stroke-width="1.1"/>
<line x1="51.68" y1="450.77" x2="56.88" y2="450.77" stroke="#222" stroke-width="1.1"/>
<line x1="72.76" y1="442.56" x2="72.76" y2="448.48" stroke="#222" stroke-width="1.1"/>
<line x1="70.16" y1="442.56" x2="75.36" y2="442.56" stroke="#222" stroke-width="1.1"/>
<line x1="70.16" y1="448.48" x2="75.36" y2="448.48" stroke="#222" stroke-width="1.1"/>
<line x1="91.24" y1="441.49" x2="91.24" y2="450.1" stroke="#222" stroke-width="1.1"/>
<line x1="88.64" y1="441.49" x2="93.84" y2="441.49" stroke="#222" stroke-width="1.1"/>
<line x1="88.64" y1="450.1" x2="93.84" y2="450.1" stroke="#222" stroke-width="1.1"/>
<line x1="109.72" y1="440.81" x2="109.72" y2="446.46" stroke="#222" stroke-width="1.1"/>
<line x1="107.12" y1="440.81" x2="112.32" y2="440.81" stroke="#222" stroke-width="1.1"/>
<line x1="107.12" y1="446.46" x2="112.32" y2="446.46" stroke="#222" stroke-width="1.1"/>
<line x1="128.2" y1="437.85" x2="128.2" y2="445.66" stroke="#222" stroke-width="1.1"/>
<line x1="125.6" y1="437.85" x2="130.8" y2="437.85" stroke="#222" stroke-width="1.1"/>
<line x1="125.6" y1="445.66" x2="130.8" y2="445.66" stroke="#222" stroke-width="1.1"/>
<line x1="146.68" y1="439.47" x2="146.68" y2="445.12" stroke="#222" stroke-width="1.1"/>
<line x1="144.08" y1="439.47" x2="149.28" y2="439.47" stroke="#222" stroke-width="1.1"/>
<line x1="144.08" y1="445.12" x2="149.28" y2="445.12" stroke="#222" stroke-width="1.1"/>
<line x1="165.16" y1="438.26" x2="165.16" y2="446.33" stroke="#222" stroke-width="1.1"/>
<line x1="162.56" y1="438.26" x2="167.76" y2="438.26" stroke="#222" stroke-width="1.1"/>
<line x1="162.56" y1="446.33" x2="167.76" y2="446.33" stroke="#222" stroke-width="1.1"/>
<polyline points="54.28,446.33 72.76,404.61 91.24,396.54 109.72,402.46 128.2,396 146.68,396.54 165.16,397.35" fill="none" stroke="#2d4c83" stroke-width="1.9"/>
<circle cx="54.28" cy="446.33" r="3" fill="#2d4c83"/>
<circle cx="72.76" cy="404.61" r="3" fill="#2d4c83"/>
<circle cx="91.24" cy="396.54" r="3" fill="#2d4c83"/>
<circle cx="109.72" cy="402.46" r="3" fill="#2d4c83"/>
<circle cx="128.2" cy="396" r="3" fill="#2d4c83"/>
<circle cx="146.68" cy="396.54" r="3" fill="#2d4c83"/>
<circle cx="165.16" cy="397.35" r="3" fill="#2d4c83"/>
<polyline points="54.28,447.14 72.76,445.52 91.24,445.79 109.72,443.64 128.2,441.75 146.68,442.29 165.16,442.29" fill="none" stroke="#b00028" stroke-width="1.9"/>
<rect x="51.48" y="444.34" width="5.6" height="5.6" fill="#b00028"/>
<rect x="69.96" y="442.72" width="5.6" height="5.6" fill="#b00028"/>
<rect x="88.44" y="442.99" width="5.6" height="5.6" fill="#b00028"/>
<rect x="106.92" y="440.84" width="5.6" height="5.6" fill="#b00028"/>
<rect x="125.4" y="438.95" width="5.6" height="5.6" fill="#b00028"/>
<rect x="143.88" y="439.49" width="5.6" height="5.6" fill="#b00028"/>
<rect x="162.36" y="439.49" width="5.6" height="5.6" fill="#b00028"/>
<circle cx="68.86" cy="382.3" r="1.15" fill="#1a1a1a"/>
<circle cx="72.76" cy="382.3" r="1.15" fill="#1a1a1a"/>
<circle cx="76.66" cy="382.3" r="1.15" fill="#1a1a1a"/>
<circle cx="87.34" cy="377.7" r="1.15" fill="#1a1a1a"/>
<circle cx="91.24" cy="377.7" r="1.15" fill="#1a1a1a"/>
<circle cx="95.14" cy="377.7" r="1.15" fill="#1a1a1a"/>
<circle cx="105.82" cy="388" r="1.15" fill="#1a1a1a"/>
<circle cx="109.72" cy="388" r="1.15" fill="#1a1a1a"/>
<circle cx="113.62" cy="388" r="1.15" fill="#1a1a1a"/>
<circle cx="124.3" cy="379.8" r="1.15" fill="#1a1a1a"/>
<circle cx="128.2" cy="379.8" r="1.15" fill="#1a1a1a"/>
<circle cx="132.1" cy="379.8" r="1.15" fill="#1a1a1a"/>
<circle cx="142.78" cy="382.5" r="1.15" fill="#1a1a1a"/>
<circle cx="146.68" cy="382.5" r="1.15" fill="#1a1a1a"/>
<circle cx="150.58" cy="382.5" r="1.15" fill="#1a1a1a"/>
<circle cx="161.26" cy="378.5" r="1.15" fill="#1a1a1a"/>
<circle cx="165.16" cy="378.5" r="1.15" fill="#1a1a1a"/>
<circle cx="169.06" cy="378.5" r="1.15" fill="#1a1a1a"/>
<text x="53" y="408.4" font-size="7.4" font-weight="normal" font-style="normal" text-anchor="middle" fill="#1a1a1a">plpC</text>
<line x1="53" y1="412.5" x2="53" y2="432.5" stroke="#1a1a1a" stroke-width="1.1"/>
<polygon points="50.4,431.5 55.6,431.5 53,437.5" fill="#1a1a1a"/>
<line x1="200.7" y1="371.4" x2="200.7" y2="471.7" stroke="#1a1a1a" stroke-width="1.35"/>
<line x1="197.7" y1="468.7" x2="200.7" y2="468.7" stroke="#1a1a1a" stroke-width="1.35"/>
<text x="194.7" y="471.5" font-size="7.8" font-weight="normal" font-style="normal" text-anchor="end" fill="#1a1a1a">0</text>
<line x1="197.7" y1="444.88" x2="200.7" y2="444.88" stroke="#1a1a1a" stroke-width="1.35"/>
<text x="194.7" y="447.68" font-size="7.8" font-weight="normal" font-style="normal" text-anchor="end" fill="#1a1a1a">5</text>
<line x1="197.7" y1="421.05" x2="200.7" y2="421.05" stroke="#1a1a1a" stroke-width="1.35"/>
<text x="194.7" y="423.85" font-size="7.8" font-weight="normal" font-style="normal" text-anchor="end" fill="#1a1a1a">10</text>
<line x1="197.7" y1="397.22" x2="200.7" y2="397.22" stroke="#1a1a1a" stroke-width="1.35"/>
<text x="194.7" y="400.02" font-size="7.8" font-weight="normal" font-style="normal" text-anchor="end" fill="#1a1a1a">15</text>
<line x1="197.7" y1="373.4" x2="200.7" y2="373.4" stroke="#1a1a1a" stroke-width="1.35"/>
<text x="194.7" y="376.2" font-size="7.8" font-weight="normal" font-style="normal" text-anchor="end" fill="#1a1a1a">20</text>
<line x1="197.7" y1="468.7" x2="335.9" y2="468.7" stroke="#1a1a1a" stroke-width="1.35"/>
<text x="201.2" y="482.2" font-size="7.8" font-weight="normal" font-style="normal" text-anchor="middle" fill="#1a1a1a">0</text>
<line x1="219.53" y1="468.7" x2="219.53" y2="471.7" stroke="#1a1a1a" stroke-width="1.35"/>
<text x="219.53" y="482.2" font-size="7.8" font-weight="normal" font-style="normal" text-anchor="middle" fill="#1a1a1a">1</text>
<line x1="237.86" y1="468.7" x2="237.86" y2="471.7" stroke="#1a1a1a" stroke-width="1.35"/>
<text x="237.86" y="482.2" font-size="7.8" font-weight="normal" font-style="normal" text-anchor="middle" fill="#1a1a1a">2</text>
<line x1="256.19" y1="468.7" x2="256.19" y2="471.7" stroke="#1a1a1a" stroke-width="1.35"/>
<text x="256.19" y="482.2" font-size="7.8" font-weight="normal" font-style="normal" text-anchor="middle" fill="#1a1a1a">3</text>
<line x1="274.52" y1="468.7" x2="274.52" y2="471.7" stroke="#1a1a1a" stroke-width="1.35"/>
<text x="274.52" y="482.2" font-size="7.8" font-weight="normal" font-style="normal" text-anchor="middle" fill="#1a1a1a">4</text>
<line x1="292.85" y1="468.7" x2="292.85" y2="471.7" stroke="#1a1a1a" stroke-width="1.35"/>
<text x="292.85" y="482.2" font-size="7.8" font-weight="normal" font-style="normal" text-anchor="middle" fill="#1a1a1a">5</text>
<line x1="311.18" y1="468.7" x2="311.18" y2="471.7" stroke="#1a1a1a" stroke-width="1.35"/>
<text x="311.18" y="482.2" font-size="7.8" font-weight="normal" font-style="normal" text-anchor="middle" fill="#1a1a1a">6</text>
<line x1="329.51" y1="468.7" x2="329.51" y2="471.7" stroke="#1a1a1a" stroke-width="1.35"/>
<text x="329.51" y="482.2" font-size="7.8" font-weight="normal" font-style="normal" text-anchor="middle" fill="#1a1a1a">7</text>
<text x="334.01" y="482.2" font-size="7.8" font-weight="normal" font-style="normal" text-anchor="start" fill="#1a1a1a">(M)</text>
<line x1="219.53" y1="394.84" x2="219.53" y2="402.47" stroke="#222" stroke-width="1.1"/>
<line x1="216.93" y1="394.84" x2="222.13" y2="394.84" stroke="#222" stroke-width="1.1"/>
<line x1="216.93" y1="402.47" x2="222.13" y2="402.47" stroke="#222" stroke-width="1.1"/>
<line x1="237.86" y1="393.41" x2="237.86" y2="401.04" stroke="#222" stroke-width="1.1"/>
<line x1="235.26" y1="393.41" x2="240.46" y2="393.41" stroke="#222" stroke-width="1.1"/>
<line x1="235.26" y1="401.04" x2="240.46" y2="401.04" stroke="#222" stroke-width="1.1"/>
<line x1="256.19" y1="390.55" x2="256.19" y2="398.18" stroke="#222" stroke-width="1.1"/>
<line x1="253.59" y1="390.55" x2="258.79" y2="390.55" stroke="#222" stroke-width="1.1"/>
<line x1="253.59" y1="398.18" x2="258.79" y2="398.18" stroke="#222" stroke-width="1.1"/>
<line x1="274.52" y1="392.46" x2="274.52" y2="400.08" stroke="#222" stroke-width="1.1"/>
<line x1="271.92" y1="392.46" x2="277.12" y2="392.46" stroke="#222" stroke-width="1.1"/>
<line x1="271.92" y1="400.08" x2="277.12" y2="400.08" stroke="#222" stroke-width="1.1"/>
<line x1="292.85" y1="391.51" x2="292.85" y2="399.13" stroke="#222" stroke-width="1.1"/>
<line x1="290.25" y1="391.51" x2="295.45" y2="391.51" stroke="#222" stroke-width="1.1"/>
<line x1="290.25" y1="399.13" x2="295.45" y2="399.13" stroke="#222" stroke-width="1.1"/>
<line x1="311.18" y1="394.84" x2="311.18" y2="402.47" stroke="#222" stroke-width="1.1"/>
<line x1="308.58" y1="394.84" x2="313.78" y2="394.84" stroke="#222" stroke-width="1.1"/>
<line x1="308.58" y1="402.47" x2="313.78" y2="402.47" stroke="#222" stroke-width="1.1"/>
<line x1="329.51" y1="393.41" x2="329.51" y2="401.04" stroke="#222" stroke-width="1.1"/>
<line x1="326.91" y1="393.41" x2="332.11" y2="393.41" stroke="#222" stroke-width="1.1"/>
<line x1="326.91" y1="401.04" x2="332.11" y2="401.04" stroke="#222" stroke-width="1.1"/>
<line x1="219.53" y1="394.6" x2="219.53" y2="403.18" stroke="#222" stroke-width="1.1"/>
<line x1="216.93" y1="394.6" x2="222.13" y2="394.6" stroke="#222" stroke-width="1.1"/>
<line x1="216.93" y1="403.18" x2="222.13" y2="403.18" stroke="#222" stroke-width="1.1"/>
<line x1="237.86" y1="393.17" x2="237.86" y2="401.75" stroke="#222" stroke-width="1.1"/>
<line x1="235.26" y1="393.17" x2="240.46" y2="393.17" stroke="#222" stroke-width="1.1"/>
<line x1="235.26" y1="401.75" x2="240.46" y2="401.75" stroke="#222" stroke-width="1.1"/>
<line x1="256.19" y1="391.75" x2="256.19" y2="400.32" stroke="#222" stroke-width="1.1"/>
<line x1="253.59" y1="391.75" x2="258.79" y2="391.75" stroke="#222" stroke-width="1.1"/>
<line x1="253.59" y1="400.32" x2="258.79" y2="400.32" stroke="#222" stroke-width="1.1"/>
<line x1="274.52" y1="396.27" x2="274.52" y2="404.85" stroke="#222" stroke-width="1.1"/>
<line x1="271.92" y1="396.27" x2="277.12" y2="396.27" stroke="#222" stroke-width="1.1"/>
<line x1="271.92" y1="404.85" x2="277.12" y2="404.85" stroke="#222" stroke-width="1.1"/>
<line x1="292.85" y1="395.56" x2="292.85" y2="404.13" stroke="#222" stroke-width="1.1"/>
<line x1="290.25" y1="395.56" x2="295.45" y2="395.56" stroke="#222" stroke-width="1.1"/>
<line x1="290.25" y1="404.13" x2="295.45" y2="404.13" stroke="#222" stroke-width="1.1"/>
<line x1="311.18" y1="394.6" x2="311.18" y2="403.18" stroke="#222" stroke-width="1.1"/>
<line x1="308.58" y1="394.6" x2="313.78" y2="394.6" stroke="#222" stroke-width="1.1"/>
<line x1="308.58" y1="403.18" x2="313.78" y2="403.18" stroke="#222" stroke-width="1.1"/>
<line x1="329.51" y1="394.84" x2="329.51" y2="403.42" stroke="#222" stroke-width="1.1"/>
<line x1="326.91" y1="394.84" x2="332.11" y2="394.84" stroke="#222" stroke-width="1.1"/>
<line x1="326.91" y1="403.42" x2="332.11" y2="403.42" stroke="#222" stroke-width="1.1"/>
<polyline points="219.53,398.65 237.86,397.22 256.19,394.37 274.52,396.27 292.85,395.32 311.18,398.65 329.51,397.22" fill="none" stroke="#2d4c83" stroke-width="1.9"/>
<circle cx="219.53" cy="398.65" r="3" fill="#2d4c83"/>
<circle cx="237.86" cy="397.22" r="3" fill="#2d4c83"/>
<circle cx="256.19" cy="394.37" r="3" fill="#2d4c83"/>
<circle cx="274.52" cy="396.27" r="3" fill="#2d4c83"/>
<circle cx="292.85" cy="395.32" r="3" fill="#2d4c83"/>
<circle cx="311.18" cy="398.65" r="3" fill="#2d4c83"/>
<circle cx="329.51" cy="397.22" r="3" fill="#2d4c83"/>
<polyline points="219.53,398.89 237.86,397.46 256.19,396.03 274.52,400.56 292.85,399.85 311.18,398.89 329.51,399.13" fill="none" stroke="#b2002a" stroke-width="1.9"/>
<circle cx="219.53" cy="398.89" r="3" fill="#b2002a"/>
<circle cx="237.86" cy="397.46" r="3" fill="#b2002a"/>
<circle cx="256.19" cy="396.03" r="3" fill="#b2002a"/>
<circle cx="274.52" cy="400.56" r="3" fill="#b2002a"/>
<circle cx="292.85" cy="399.85" r="3" fill="#b2002a"/>
<circle cx="311.18" cy="398.89" r="3" fill="#b2002a"/>
<circle cx="329.51" cy="399.13" r="3" fill="#b2002a"/>
<text x="218.6" y="366.5" font-size="7.4" font-weight="normal" font-style="normal" text-anchor="middle" fill="#1a1a1a">plpC</text>
<line x1="218.6" y1="369.5" x2="218.6" y2="387.5" stroke="#1a1a1a" stroke-width="1.1"/>
<polygon points="216,386.5 221.2,386.5 218.6,392.5" fill="#1a1a1a"/>
<line x1="237.9" y1="376.8" x2="330" y2="376.8" stroke="#1a1a1a" stroke-width="1.35"/>
<text x="284" y="373.3" font-size="7" font-weight="normal" font-style="normal" text-anchor="middle" fill="#1a1a1a">ns</text>
<line x1="365.7" y1="371.4" x2="365.7" y2="471.9" stroke="#1a1a1a" stroke-width="1.35"/>
<line x1="362.7" y1="468.9" x2="365.7" y2="468.9" stroke="#1a1a1a" stroke-width="1.35"/>
<text x="359.7" y="471.7" font-size="7.8" font-weight="normal" font-style="normal" text-anchor="end" fill="#1a1a1a">0</text>
<line x1="362.7" y1="437.07" x2="365.7" y2="437.07" stroke="#1a1a1a" stroke-width="1.35"/>
<text x="359.7" y="439.87" font-size="7.8" font-weight="normal" font-style="normal" text-anchor="end" fill="#1a1a1a">30</text>
<line x1="362.7" y1="405.23" x2="365.7" y2="405.23" stroke="#1a1a1a" stroke-width="1.35"/>
<text x="359.7" y="408.03" font-size="7.8" font-weight="normal" font-style="normal" text-anchor="end" fill="#1a1a1a">60</text>
<line x1="362.7" y1="373.4" x2="365.7" y2="373.4" stroke="#1a1a1a" stroke-width="1.35"/>
<text x="359.7" y="376.2" font-size="7.8" font-weight="normal" font-style="normal" text-anchor="end" fill="#1a1a1a">90</text>
<line x1="362.7" y1="468.9" x2="501.6" y2="468.9" stroke="#1a1a1a" stroke-width="1.35"/>
<text x="366.2" y="482.4" font-size="7.8" font-weight="normal" font-style="normal" text-anchor="middle" fill="#1a1a1a">0</text>
<line x1="384.63" y1="468.9" x2="384.63" y2="471.9" stroke="#1a1a1a" stroke-width="1.35"/>
<text x="384.63" y="482.4" font-size="7.8" font-weight="normal" font-style="normal" text-anchor="middle" fill="#1a1a1a">1</text>
<line x1="403.06" y1="468.9" x2="403.06" y2="471.9" stroke="#1a1a1a" stroke-width="1.35"/>
<text x="403.06" y="482.4" font-size="7.8" font-weight="normal" font-style="normal" text-anchor="middle" fill="#1a1a1a">2</text>
<line x1="421.49" y1="468.9" x2="421.49" y2="471.9" stroke="#1a1a1a" stroke-width="1.35"/>
<text x="421.49" y="482.4" font-size="7.8" font-weight="normal" font-style="normal" text-anchor="middle" fill="#1a1a1a">3</text>
<line x1="439.92" y1="468.9" x2="439.92" y2="471.9" stroke="#1a1a1a" stroke-width="1.35"/>
<text x="439.92" y="482.4" font-size="7.8" font-weight="normal" font-style="normal" text-anchor="middle" fill="#1a1a1a">4</text>
<line x1="458.35" y1="468.9" x2="458.35" y2="471.9" stroke="#1a1a1a" stroke-width="1.35"/>
<text x="458.35" y="482.4" font-size="7.8" font-weight="normal" font-style="normal" text-anchor="middle" fill="#1a1a1a">5</text>
<line x1="476.78" y1="468.9" x2="476.78" y2="471.9" stroke="#1a1a1a" stroke-width="1.35"/>
<text x="476.78" y="482.4" font-size="7.8" font-weight="normal" font-style="normal" text-anchor="middle" fill="#1a1a1a">6</text>
<line x1="495.21" y1="468.9" x2="495.21" y2="471.9" stroke="#1a1a1a" stroke-width="1.35"/>
<text x="495.21" y="482.4" font-size="7.8" font-weight="normal" font-style="normal" text-anchor="middle" fill="#1a1a1a">7</text>
<text x="499.71" y="482.4" font-size="7.8" font-weight="normal" font-style="normal" text-anchor="start" fill="#1a1a1a">(M)</text>
<line x1="384.63" y1="415.53" x2="384.63" y2="425.92" stroke="#222" stroke-width="1.1"/>
<line x1="382.03" y1="415.53" x2="387.23" y2="415.53" stroke="#222" stroke-width="1.1"/>
<line x1="382.03" y1="425.92" x2="387.23" y2="425.92" stroke="#222" stroke-width="1.1"/>
<line x1="403.06" y1="412.56" x2="403.06" y2="424.86" stroke="#222" stroke-width="1.1"/>
<line x1="400.46" y1="412.56" x2="405.66" y2="412.56" stroke="#222" stroke-width="1.1"/>
<line x1="400.46" y1="424.86" x2="405.66" y2="424.86" stroke="#222" stroke-width="1.1"/>
<line x1="421.49" y1="392.92" x2="421.49" y2="439.4" stroke="#222" stroke-width="1.1"/>
<line x1="418.89" y1="392.92" x2="424.09" y2="392.92" stroke="#222" stroke-width="1.1"/>
<line x1="418.89" y1="439.4" x2="424.09" y2="439.4" stroke="#222" stroke-width="1.1"/>
<line x1="439.92" y1="389.42" x2="439.92" y2="429.11" stroke="#222" stroke-width="1.1"/>
<line x1="437.32" y1="389.42" x2="442.52" y2="389.42" stroke="#222" stroke-width="1.1"/>
<line x1="437.32" y1="429.11" x2="442.52" y2="429.11" stroke="#222" stroke-width="1.1"/>
<line x1="458.35" y1="396.32" x2="458.35" y2="429.21" stroke="#222" stroke-width="1.1"/>
<line x1="455.75" y1="396.32" x2="460.95" y2="396.32" stroke="#222" stroke-width="1.1"/>
<line x1="455.75" y1="429.21" x2="460.95" y2="429.21" stroke="#222" stroke-width="1.1"/>
<line x1="476.78" y1="385.18" x2="476.78" y2="424.86" stroke="#222" stroke-width="1.1"/>
<line x1="474.18" y1="385.18" x2="479.38" y2="385.18" stroke="#222" stroke-width="1.1"/>
<line x1="474.18" y1="424.86" x2="479.38" y2="424.86" stroke="#222" stroke-width="1.1"/>
<line x1="495.21" y1="382.74" x2="495.21" y2="413.93" stroke="#222" stroke-width="1.1"/>
<line x1="492.61" y1="382.74" x2="497.81" y2="382.74" stroke="#222" stroke-width="1.1"/>
<line x1="492.61" y1="413.93" x2="497.81" y2="413.93" stroke="#222" stroke-width="1.1"/>
<line x1="384.63" y1="418.82" x2="384.63" y2="428.79" stroke="#222" stroke-width="1.1"/>
<line x1="382.03" y1="418.82" x2="387.23" y2="418.82" stroke="#222" stroke-width="1.1"/>
<line x1="382.03" y1="428.79" x2="387.23" y2="428.79" stroke="#222" stroke-width="1.1"/>
<line x1="403.06" y1="411.71" x2="403.06" y2="428.26" stroke="#222" stroke-width="1.1"/>
<line x1="400.46" y1="411.71" x2="405.66" y2="411.71" stroke="#222" stroke-width="1.1"/>
<line x1="400.46" y1="428.26" x2="405.66" y2="428.26" stroke="#222" stroke-width="1.1"/>
<line x1="421.49" y1="407.46" x2="421.49" y2="427.41" stroke="#222" stroke-width="1.1"/>
<line x1="418.89" y1="407.46" x2="424.09" y2="407.46" stroke="#222" stroke-width="1.1"/>
<line x1="418.89" y1="427.41" x2="424.09" y2="427.41" stroke="#222" stroke-width="1.1"/>
<line x1="439.92" y1="405.76" x2="439.92" y2="432.72" stroke="#222" stroke-width="1.1"/>
<line x1="437.32" y1="405.76" x2="442.52" y2="405.76" stroke="#222" stroke-width="1.1"/>
<line x1="437.32" y1="432.72" x2="442.52" y2="432.72" stroke="#222" stroke-width="1.1"/>
<line x1="458.35" y1="419.24" x2="458.35" y2="430.28" stroke="#222" stroke-width="1.1"/>
<line x1="455.75" y1="419.24" x2="460.95" y2="419.24" stroke="#222" stroke-width="1.1"/>
<line x1="455.75" y1="430.28" x2="460.95" y2="430.28" stroke="#222" stroke-width="1.1"/>
<line x1="476.78" y1="399.82" x2="476.78" y2="423.59" stroke="#222" stroke-width="1.1"/>
<line x1="474.18" y1="399.82" x2="479.38" y2="399.82" stroke="#222" stroke-width="1.1"/>
<line x1="474.18" y1="423.59" x2="479.38" y2="423.59" stroke="#222" stroke-width="1.1"/>
<line x1="495.21" y1="396.53" x2="495.21" y2="423.7" stroke="#222" stroke-width="1.1"/>
<line x1="492.61" y1="396.53" x2="497.81" y2="396.53" stroke="#222" stroke-width="1.1"/>
<line x1="492.61" y1="423.7" x2="497.81" y2="423.7" stroke="#222" stroke-width="1.1"/>
<polyline points="384.63,420.73 403.06,418.71 421.49,416.16 439.92,409.27 458.35,412.77 476.78,405.02 495.21,398.34" fill="none" stroke="#2d4c83" stroke-width="1.9"/>
<circle cx="384.63" cy="420.73" r="3" fill="#2d4c83"/>
<circle cx="403.06" cy="418.71" r="3" fill="#2d4c83"/>
<circle cx="421.49" cy="416.16" r="3" fill="#2d4c83"/>
<circle cx="439.92" cy="409.27" r="3" fill="#2d4c83"/>
<circle cx="458.35" cy="412.77" r="3" fill="#2d4c83"/>
<circle cx="476.78" cy="405.02" r="3" fill="#2d4c83"/>
<circle cx="495.21" cy="398.34" r="3" fill="#2d4c83"/>
<polyline points="384.63,423.8 403.06,419.98 421.49,417.44 439.92,419.24 458.35,424.76 476.78,411.71 495.21,410.11" fill="none" stroke="#b2002a" stroke-width="1.9"/>
<circle cx="384.63" cy="423.8" r="3" fill="#b2002a"/>
<circle cx="403.06" cy="419.98" r="3" fill="#b2002a"/>
<circle cx="421.49" cy="417.44" r="3" fill="#b2002a"/>
<circle cx="439.92" cy="419.24" r="3" fill="#b2002a"/>
<circle cx="458.35" cy="424.76" r="3" fill="#b2002a"/>
<circle cx="476.78" cy="411.71" r="3" fill="#b2002a"/>
<circle cx="495.21" cy="410.11" r="3" fill="#b2002a"/>
<text x="384.8" y="384.2" font-size="7.4" font-weight="normal" font-style="normal" text-anchor="middle" fill="#1a1a1a">plpC</text>
<line x1="384.8" y1="386.5" x2="384.8" y2="406.6" stroke="#1a1a1a" stroke-width="1.1"/>
<polygon points="382.2,405.6 387.4,405.6 384.8,411.6" fill="#1a1a1a"/>
<line x1="403.9" y1="376.3" x2="494.9" y2="376.3" stroke="#1a1a1a" stroke-width="1.35"/>
<text x="449" y="372.7" font-size="7" font-weight="normal" font-style="normal" text-anchor="middle" fill="#1a1a1a">ns</text>
<text x="8.3" y="507" font-size="11" font-weight="bold" font-style="normal" text-anchor="start" fill="#1a1a1a" >D</text>
<rect x="220.75" y="497.5" width="11.8" height="11.8" fill="#b2002a"/>
<text x="236.2" y="506.3" font-size="7.6" font-weight="normal" font-style="italic" text-anchor="start" fill="#1a1a1a" >Ctrl</text>
<rect x="257" y="497.5" width="12.5" height="11.8" fill="#2d4c83"/>
<text x="273" y="506.3" font-size="7.6" font-weight="normal" font-style="italic" text-anchor="start" fill="#1a1a1a" >Cbl<tspan font-size="5.4" dy="-3.2">Q367P</tspan></text>
<text x="6.8" y="526.6" font-size="11" font-weight="bold" font-style="normal" text-anchor="start" fill="#1a1a1a" >i</text>
<text x="108.7" y="526.6" font-size="11" font-weight="bold" font-style="normal" text-anchor="start" fill="#1a1a1a" >ii</text>
<text x="195" y="526.6" font-size="11" font-weight="bold" font-style="normal" text-anchor="start" fill="#1a1a1a" >iii</text>
<text x="275.3" y="526.6" font-size="11" font-weight="bold" font-style="normal" text-anchor="start" fill="#1a1a1a" >iv</text>
<text x="361.2" y="526.6" font-size="11" font-weight="bold" font-style="normal" text-anchor="start" fill="#1a1a1a" >v</text>
<text x="434.5" y="526.6" font-size="11" font-weight="bold" font-style="normal" text-anchor="start" fill="#1a1a1a" >vi</text>
<text x="69.2" y="526.8" font-size="9.4" font-weight="bold" font-style="normal" text-anchor="middle" fill="#1a1a1a" >Total</text>
<text x="151.1" y="526.8" font-size="9.4" font-weight="bold" font-style="normal" text-anchor="middle" fill="#1a1a1a" >Mix</text>
<text x="237.5" y="526.8" font-size="9.4" font-weight="bold" font-style="normal" text-anchor="middle" fill="#1a1a1a" >GM</text>
<text x="319" y="526.8" font-size="9.4" font-weight="bold" font-style="normal" text-anchor="middle" fill="#1a1a1a" >BFU-e</text>
<text x="396.4" y="526.8" font-size="9.4" font-weight="bold" font-style="normal" text-anchor="middle" fill="#1a1a1a" >MK</text>
<text x="482.3" y="526.8" font-size="9.4" font-weight="bold" font-style="normal" text-anchor="middle" fill="#1a1a1a" >Spontaneous</text>
<text x="0" y="0" font-size="8.8" text-anchor="middle" fill="#1a1a1a" transform="translate(15.7,578.8) rotate(-90)">Colony number</text>
<line x1="40" y1="538.75" x2="40" y2="620" stroke="#1a1a1a" stroke-width="1.35"/>
<line x1="37" y1="617.5" x2="40" y2="617.5" stroke="#1a1a1a" stroke-width="1.35"/>
<text x="34" y="620.3" font-size="7.8" font-weight="normal" font-style="normal" text-anchor="end" fill="#1a1a1a" >0</text>
<line x1="37" y1="579.12" x2="40" y2="579.12" stroke="#1a1a1a" stroke-width="1.35"/>
<text x="34" y="581.92" font-size="7.8" font-weight="normal" font-style="normal" text-anchor="end" fill="#1a1a1a" >100</text>
<line x1="37" y1="540.75" x2="40" y2="540.75" stroke="#1a1a1a" stroke-width="1.35"/>
<text x="34" y="543.55" font-size="7.8" font-weight="normal" font-style="normal" text-anchor="end" fill="#1a1a1a" >200</text>
<line x1="37" y1="617.5" x2="97.5" y2="617.5" stroke="#1a1a1a" stroke-width="1.35"/>
<rect x="53.75" y="591.79" width="18.2" height="25.71" fill="#b2002a"/>
<line x1="62.5" y1="591.79" x2="62.5" y2="583.88" stroke="#1a1a1a" stroke-width="1.3"/>
<line x1="59.5" y1="583.88" x2="65.5" y2="583.88" stroke="#1a1a1a" stroke-width="1.3"/>
<rect x="71.25" y="561.24" width="17" height="56.26" fill="#2d4c83"/>
<line x1="79.75" y1="561.24" x2="79.75" y2="556.25" stroke="#1a1a1a" stroke-width="1.3"/>
<line x1="76.75" y1="556.25" x2="82.75" y2="556.25" stroke="#1a1a1a" stroke-width="1.3"/>
<line x1="61.75" y1="540" x2="80.75" y2="540" stroke="#1a1a1a" stroke-width="1.35"/>
<circle cx="67.35" cy="534.7" r="1.15" fill="#1a1a1a"/>
<circle cx="71.25" cy="534.7" r="1.15" fill="#1a1a1a"/>
<circle cx="75.15" cy="534.7" r="1.15" fill="#1a1a1a"/>
<line x1="122.5" y1="538.75" x2="122.5" y2="620" stroke="#1a1a1a" stroke-width="1.35"/>
<line x1="119.5" y1="617.5" x2="122.5" y2="617.5" stroke="#1a1a1a" stroke-width="1.35"/>
<text x="116.5" y="620.3" font-size="7.8" font-weight="normal" font-style="normal" text-anchor="end" fill="#1a1a1a" >0</text>
<line x1="119.5" y1="591.92" x2="122.5" y2="591.92" stroke="#1a1a1a" stroke-width="1.35"/>
<text x="116.5" y="594.72" font-size="7.8" font-weight="normal" font-style="normal" text-anchor="end" fill="#1a1a1a" >20</text>
<line x1="119.5" y1="566.33" x2="122.5" y2="566.33" stroke="#1a1a1a" stroke-width="1.35"/>
<text x="116.5" y="569.13" font-size="7.8" font-weight="normal" font-style="normal" text-anchor="end" fill="#1a1a1a" >40</text>
<line x1="119.5" y1="540.75" x2="122.5" y2="540.75" stroke="#1a1a1a" stroke-width="1.35"/>
<text x="116.5" y="543.55" font-size="7.8" font-weight="normal" font-style="normal" text-anchor="end" fill="#1a1a1a" >60</text>
<line x1="119.5" y1="617.5" x2="179.5" y2="617.5" stroke="#1a1a1a" stroke-width="1.35"/>
<rect x="135.75" y="609.19" width="17.95" height="8.31" fill="#b2002a"/>
<line x1="144.38" y1="609.19" x2="144.38" y2="604.2" stroke="#1a1a1a" stroke-width="1.3"/>
<line x1="141.38" y1="604.2" x2="147.38" y2="604.2" stroke="#1a1a1a" stroke-width="1.3"/>
<rect x="153" y="561.22" width="17" height="56.28" fill="#2d4c83"/>
<line x1="161.5" y1="561.22" x2="161.5" y2="546.12" stroke="#1a1a1a" stroke-width="1.3"/>
<line x1="158.5" y1="546.12" x2="164.5" y2="546.12" stroke="#1a1a1a" stroke-width="1.3"/>
<line x1="143.75" y1="540" x2="162.5" y2="540" stroke="#1a1a1a" stroke-width="1.35"/>
<circle cx="149.22" cy="534.7" r="1.15" fill="#1a1a1a"/>
<circle cx="153.12" cy="534.7" r="1.15" fill="#1a1a1a"/>
<circle cx="157.03" cy="534.7" r="1.15" fill="#1a1a1a"/>
<line x1="208.3" y1="538.75" x2="208.3" y2="620" stroke="#1a1a1a" stroke-width="1.35"/>
<line x1="205.3" y1="617.5" x2="208.3" y2="617.5" stroke="#1a1a1a" stroke-width="1.35"/>
<text x="202.3" y="620.3" font-size="7.8" font-weight="normal" font-style="normal" text-anchor="end" fill="#1a1a1a" >0</text>
<line x1="205.3" y1="579.12" x2="208.3" y2="579.12" stroke="#1a1a1a" stroke-width="1.35"/>
<text x="202.3" y="581.92" font-size="7.8" font-weight="normal" font-style="normal" text-anchor="end" fill="#1a1a1a" >50</text>
<line x1="205.3" y1="540.75" x2="208.3" y2="540.75" stroke="#1a1a1a" stroke-width="1.35"/>
<text x="202.3" y="543.55" font-size="7.8" font-weight="normal" font-style="normal" text-anchor="end" fill="#1a1a1a" >100</text>
<line x1="205.3" y1="617.5" x2="265.75" y2="617.5" stroke="#1a1a1a" stroke-width="1.35"/>
<rect x="221.75" y="600.62" width="18.2" height="16.88" fill="#b2002a"/>
<line x1="230.5" y1="600.62" x2="230.5" y2="587.41" stroke="#1a1a1a" stroke-width="1.3"/>
<line x1="227.5" y1="587.41" x2="233.5" y2="587.41" stroke="#1a1a1a" stroke-width="1.3"/>
<rect x="239.25" y="561.24" width="17" height="56.26" fill="#2d4c83"/>
<line x1="247.75" y1="561.24" x2="247.75" y2="554.57" stroke="#1a1a1a" stroke-width="1.3"/>
<line x1="244.75" y1="554.57" x2="250.75" y2="554.57" stroke="#1a1a1a" stroke-width="1.3"/>
<line x1="229.5" y1="540" x2="248.75" y2="540" stroke="#1a1a1a" stroke-width="1.35"/>
<circle cx="235.22" cy="534.7" r="1.15" fill="#1a1a1a"/>
<circle cx="239.12" cy="534.7" r="1.15" fill="#1a1a1a"/>
<circle cx="243.03" cy="534.7" r="1.15" fill="#1a1a1a"/>
<line x1="289.5" y1="538.75" x2="289.5" y2="620" stroke="#1a1a1a" stroke-width="1.35"/>
<line x1="286.5" y1="617.5" x2="289.5" y2="617.5" stroke="#1a1a1a" stroke-width="1.35"/>
<text x="283.5" y="620.3" font-size="7.8" font-weight="normal" font-style="normal" text-anchor="end" fill="#1a1a1a" >0</text>
<line x1="286.5" y1="602.15" x2="289.5" y2="602.15" stroke="#1a1a1a" stroke-width="1.35"/>
<text x="283.5" y="604.95" font-size="7.8" font-weight="normal" font-style="normal" text-anchor="end" fill="#1a1a1a" >10</text>
<line x1="286.5" y1="586.8" x2="289.5" y2="586.8" stroke="#1a1a1a" stroke-width="1.35"/>
<text x="283.5" y="589.6" font-size="7.8" font-weight="normal" font-style="normal" text-anchor="end" fill="#1a1a1a" >20</text>
<line x1="286.5" y1="571.45" x2="289.5" y2="571.45" stroke="#1a1a1a" stroke-width="1.35"/>
<text x="283.5" y="574.25" font-size="7.8" font-weight="normal" font-style="normal" text-anchor="end" fill="#1a1a1a" >30</text>
<line x1="286.5" y1="556.1" x2="289.5" y2="556.1" stroke="#1a1a1a" stroke-width="1.35"/>
<text x="283.5" y="558.9" font-size="7.8" font-weight="normal" font-style="normal" text-anchor="end" fill="#1a1a1a" >40</text>
<line x1="286.5" y1="540.75" x2="289.5" y2="540.75" stroke="#1a1a1a" stroke-width="1.35"/>
<text x="283.5" y="543.55" font-size="7.8" font-weight="normal" font-style="normal" text-anchor="end" fill="#1a1a1a" >50</text>
<line x1="286.5" y1="617.5" x2="347.5" y2="617.5" stroke="#1a1a1a" stroke-width="1.35"/>
<rect x="303.75" y="569.61" width="17.7" height="47.89" fill="#b2002a"/>
<line x1="312.25" y1="569.61" x2="312.25" y2="554.26" stroke="#1a1a1a" stroke-width="1.3"/>
<line x1="309.25" y1="554.26" x2="315.25" y2="554.26" stroke="#1a1a1a" stroke-width="1.3"/>
<rect x="320.75" y="565.77" width="17.25" height="51.73" fill="#2d4c83"/>
<line x1="329.38" y1="565.77" x2="329.38" y2="551.19" stroke="#1a1a1a" stroke-width="1.3"/>
<line x1="326.38" y1="551.19" x2="332.38" y2="551.19" stroke="#1a1a1a" stroke-width="1.3"/>
<line x1="311.25" y1="540" x2="330.75" y2="540" stroke="#1a1a1a" stroke-width="1.35"/>
<text x="321" y="536.2" font-size="7" font-weight="normal" font-style="normal" text-anchor="middle" fill="#1a1a1a" >ns</text>
<line x1="366.25" y1="538.75" x2="366.25" y2="620" stroke="#1a1a1a" stroke-width="1.35"/>
<line x1="363.25" y1="617.5" x2="366.25" y2="617.5" stroke="#1a1a1a" stroke-width="1.35"/>
<text x="360.25" y="620.3" font-size="7.8" font-weight="normal" font-style="normal" text-anchor="end" fill="#1a1a1a" >0</text>
<line x1="363.25" y1="591.92" x2="366.25" y2="591.92" stroke="#1a1a1a" stroke-width="1.35"/>
<text x="360.25" y="594.72" font-size="7.8" font-weight="normal" font-style="normal" text-anchor="end" fill="#1a1a1a" >2</text>
<line x1="363.25" y1="566.33" x2="366.25" y2="566.33" stroke="#1a1a1a" stroke-width="1.35"/>
<text x="360.25" y="569.13" font-size="7.8" font-weight="normal" font-style="normal" text-anchor="end" fill="#1a1a1a" >4</text>
<line x1="363.25" y1="540.75" x2="366.25" y2="540.75" stroke="#1a1a1a" stroke-width="1.35"/>
<text x="360.25" y="543.55" font-size="7.8" font-weight="normal" font-style="normal" text-anchor="end" fill="#1a1a1a" >6</text>
<line x1="363.25" y1="617.5" x2="420" y2="617.5" stroke="#1a1a1a" stroke-width="1.35"/>
<rect x="381" y="576.57" width="17.5" height="40.93" fill="#b2002a"/>
<line x1="389.4" y1="576.57" x2="389.4" y2="560.58" stroke="#1a1a1a" stroke-width="1.3"/>
<line x1="386.4" y1="560.58" x2="392.4" y2="560.58" stroke="#1a1a1a" stroke-width="1.3"/>
<rect x="397.8" y="566.97" width="17.6" height="50.53" fill="#2d4c83"/>
<line x1="406.6" y1="566.97" x2="406.6" y2="545.87" stroke="#1a1a1a" stroke-width="1.3"/>
<line x1="403.6" y1="545.87" x2="409.6" y2="545.87" stroke="#1a1a1a" stroke-width="1.3"/>
<line x1="389.2" y1="540" x2="403.7" y2="540" stroke="#1a1a1a" stroke-width="1.35"/>
<text x="396.45" y="536.2" font-size="7" font-weight="normal" font-style="normal" text-anchor="middle" fill="#1a1a1a" >ns</text>
<line x1="452.9" y1="538.75" x2="452.9" y2="620" stroke="#1a1a1a" stroke-width="1.35"/>
<line x1="449.9" y1="617.5" x2="452.9" y2="617.5" stroke="#1a1a1a" stroke-width="1.35"/>
<text x="446.9" y="620.3" font-size="7.8" font-weight="normal" font-style="normal" text-anchor="end" fill="#1a1a1a" >0</text>
<line x1="449.9" y1="579.12" x2="452.9" y2="579.12" stroke="#1a1a1a" stroke-width="1.35"/>
<text x="446.9" y="581.92" font-size="7.8" font-weight="normal" font-style="normal" text-anchor="end" fill="#1a1a1a" >50</text>
<line x1="449.9" y1="540.75" x2="452.9" y2="540.75" stroke="#1a1a1a" stroke-width="1.35"/>
<text x="446.9" y="543.55" font-size="7.8" font-weight="normal" font-style="normal" text-anchor="end" fill="#1a1a1a" >100</text>
<line x1="449.9" y1="617.5" x2="511" y2="617.5" stroke="#1a1a1a" stroke-width="1.35"/>
<rect x="466" y="616.5" width="18.7" height="1" fill="#b2002a"/>
<line x1="475" y1="616.5" x2="475" y2="615.04" stroke="#1a1a1a" stroke-width="1.3"/>
<line x1="472" y1="615.04" x2="478" y2="615.04" stroke="#1a1a1a" stroke-width="1.3"/>
<rect x="484" y="566.46" width="17.5" height="51.04" fill="#2d4c83"/>
<line x1="492.75" y1="566.46" x2="492.75" y2="554.8" stroke="#1a1a1a" stroke-width="1.3"/>
<line x1="489.75" y1="554.8" x2="495.75" y2="554.8" stroke="#1a1a1a" stroke-width="1.3"/>
<line x1="475.4" y1="540" x2="493.8" y2="540" stroke="#1a1a1a" stroke-width="1.35"/>
<circle cx="480.7" cy="534.7" r="1.15" fill="#1a1a1a"/>
<circle cx="484.6" cy="534.7" r="1.15" fill="#1a1a1a"/>
<circle cx="488.5" cy="534.7" r="1.15" fill="#1a1a1a"/>
<rect x="0" y="0" width="520" height="1" fill="#000"/>
<rect x="0" y="0" width="1" height="629" fill="#000"/>
<rect x="518.5" y="0" width="1.5" height="629" fill="#000"/>
<rect x="0" y="627.2" width="520" height="1.8" fill="#000"/>
</svg>
</body></html>
